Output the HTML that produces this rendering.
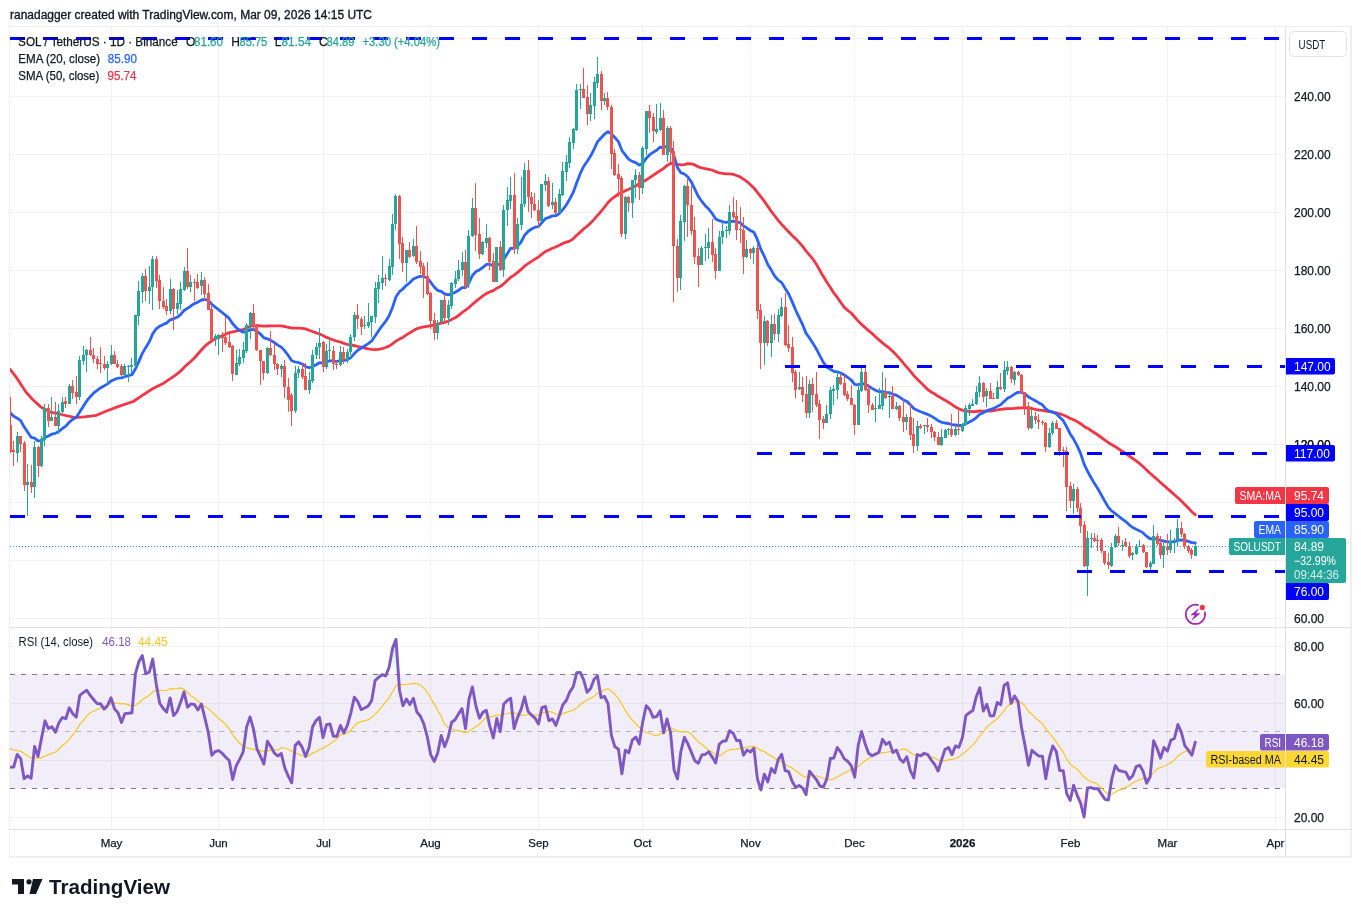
<!DOCTYPE html>
<html><head><meta charset="utf-8"><title>SOL / TetherUS chart</title>
<style>
html,body{margin:0;padding:0;background:#fff;}
body{width:1361px;height:917px;overflow:hidden;position:relative;font-family:"Liberation Sans",Arial,sans-serif;}
svg{position:absolute;left:0;top:0;}
svg text{font-family:"Liberation Sans",Arial,sans-serif;}
</style></head><body>
<svg width="1361" height="917" viewBox="0 0 1361 917" shape-rendering="crispEdges">
<rect x="0" y="0" width="1361" height="917" fill="#ffffff"/>
<text x="10" y="19" font-size="12.5" fill="#131722" stroke="#131722" stroke-width="0.35" textLength="362" lengthAdjust="spacingAndGlyphs">ranadagger created with TradingView.com, Mar 09, 2026 14:15 UTC</text>
<!-- frame -->
<rect x="9.5" y="26.5" width="1341.5" height="830.5" fill="none" stroke="#efefef" stroke-width="1.6"/>
<!-- grid -->
<g fill="#f2f2f3">
<rect x="10" y="38" width="1275" height="1"/>
<rect x="10" y="96" width="1275" height="1"/>
<rect x="10" y="154" width="1275" height="1"/>
<rect x="10" y="212" width="1275" height="1"/>
<rect x="10" y="270" width="1275" height="1"/>
<rect x="10" y="328" width="1275" height="1"/>
<rect x="10" y="386" width="1275" height="1"/>
<rect x="10" y="444" width="1275" height="1"/>
<rect x="10" y="502" width="1275" height="1"/>
<rect x="10" y="560" width="1275" height="1"/>
<rect x="10" y="618" width="1275" height="1"/>
<rect x="10" y="646" width="1275" height="1"/>
<rect x="10" y="703" width="1275" height="1"/>
<rect x="10" y="760" width="1275" height="1"/>
<rect x="10" y="817" width="1275" height="1"/>
<rect x="111" y="27" width="1" height="600"/>
<rect x="111" y="628" width="1" height="201"/>
<rect x="218" y="27" width="1" height="600"/>
<rect x="218" y="628" width="1" height="201"/>
<rect x="323" y="27" width="1" height="600"/>
<rect x="323" y="628" width="1" height="201"/>
<rect x="430" y="27" width="1" height="600"/>
<rect x="430" y="628" width="1" height="201"/>
<rect x="538" y="27" width="1" height="600"/>
<rect x="538" y="628" width="1" height="201"/>
<rect x="642" y="27" width="1" height="600"/>
<rect x="642" y="628" width="1" height="201"/>
<rect x="750" y="27" width="1" height="600"/>
<rect x="750" y="628" width="1" height="201"/>
<rect x="854" y="27" width="1" height="600"/>
<rect x="854" y="628" width="1" height="201"/>
<rect x="962" y="27" width="1" height="600"/>
<rect x="962" y="628" width="1" height="201"/>
<rect x="1070" y="27" width="1" height="600"/>
<rect x="1070" y="628" width="1" height="201"/>
<rect x="1167" y="27" width="1" height="600"/>
<rect x="1167" y="628" width="1" height="201"/>
<rect x="1275" y="27" width="1" height="600"/>
<rect x="1275" y="628" width="1" height="201"/>
</g>
<!-- RSI band -->
<rect x="10" y="674" width="1275" height="114" fill="#7e57c2" fill-opacity="0.1"/>
<g stroke="#787b86" stroke-width="1" stroke-dasharray="5 6" fill="none" shape-rendering="crispEdges">
<line x1="10" y1="674.5" x2="1285" y2="674.5"/>
<line x1="10" y1="731.5" x2="1285" y2="731.5" stroke-opacity="0.5"/>
<line x1="10" y1="788.5" x2="1285" y2="788.5"/>
</g>
<!-- separators -->
<rect x="10" y="627" width="1340" height="1" fill="#e0e1e4"/>
<rect x="10" y="829" width="1340" height="1" fill="#e0e1e4"/>
<rect x="1285" y="27" width="1" height="830" fill="#e0e1e4"/>
<!-- RSI OB/OS fills -->
<defs>
<linearGradient id="gob" gradientUnits="userSpaceOnUse" x1="0" y1="589" x2="0" y2="674.5"><stop offset="0" stop-color="#4caf50" stop-opacity="0.9"/><stop offset="1" stop-color="#4caf50" stop-opacity="0"/></linearGradient>
<linearGradient id="gos" gradientUnits="userSpaceOnUse" x1="0" y1="788.5" x2="0" y2="874"><stop offset="0" stop-color="#f23645" stop-opacity="0"/><stop offset="1" stop-color="#f23645" stop-opacity="0.9"/></linearGradient>
<clipPath id="cob"><rect x="10" y="560" width="1275" height="114.5"/></clipPath>
<clipPath id="cos"><rect x="10" y="788.5" width="1275" height="40.5"/></clipPath>
</defs>
<g shape-rendering="auto">
<polygon points="10.2,767.1 13.7,767.0 17.2,754.5 20.7,758.6 24.1,778.7 27.6,776.0 31.1,778.2 34.6,746.5 38.0,756.4 41.5,738.4 45.0,720.8 48.5,728.6 51.9,726.7 55.4,732.3 58.9,722.8 62.4,717.5 65.8,718.7 69.3,707.8 72.8,713.7 76.3,717.1 79.7,695.5 83.2,692.6 86.7,690.2 90.2,695.4 93.6,699.5 97.1,703.6 100.6,703.8 104.1,709.1 107.5,705.7 111.0,697.8 114.5,708.9 118.0,712.8 121.5,722.6 124.9,713.6 128.4,713.3 131.9,712.8 135.4,673.8 138.8,661.8 142.3,655.5 145.8,673.7 149.3,672.1 152.7,659.1 156.2,683.8 159.7,703.3 163.2,708.4 166.6,712.1 170.1,697.9 173.6,715.5 177.1,711.6 180.5,702.6 184.0,692.0 187.5,707.2 191.0,703.9 194.4,704.5 197.9,710.0 201.4,703.9 204.9,718.2 208.3,732.5 211.8,755.3 215.3,751.5 218.8,750.7 222.2,753.3 225.7,757.2 229.2,760.5 232.7,779.5 236.1,766.0 239.6,759.4 243.1,752.1 246.6,727.1 250.0,716.9 253.5,729.2 257.0,748.9 260.5,756.4 263.9,764.1 267.4,741.2 270.9,746.7 274.4,753.1 277.8,756.0 281.3,753.5 284.8,768.0 288.3,776.2 291.7,782.8 295.2,745.4 298.7,741.9 302.2,747.4 305.6,756.6 309.1,747.3 312.6,726.7 316.1,720.5 319.5,717.4 323.0,737.5 326.5,724.6 330.0,723.9 333.4,736.3 336.9,736.3 340.4,725.4 343.9,732.9 347.3,725.5 350.8,713.1 354.3,697.2 357.8,701.6 361.2,709.6 364.7,708.0 368.2,706.0 371.7,700.4 375.1,680.6 378.6,677.2 382.1,674.7 385.6,675.9 389.0,667.7 392.5,648.4 396.0,639.4 399.5,690.2 402.9,705.7 406.4,699.1 409.9,704.6 413.4,698.2 416.8,712.0 420.3,716.0 423.8,723.9 427.3,737.0 430.7,754.6 434.2,761.4 437.7,753.0 441.2,735.5 444.6,746.7 448.1,737.5 451.6,722.3 455.1,719.8 458.5,713.9 462.0,708.6 465.5,728.6 469.0,699.2 472.4,687.0 475.9,706.0 479.4,718.2 482.9,712.3 486.3,710.2 489.8,726.1 493.3,737.9 496.8,718.5 500.2,731.7 503.7,704.2 507.2,700.4 510.7,698.3 514.1,728.5 517.6,717.4 521.1,709.3 524.6,696.8 528.0,711.2 531.5,715.1 535.0,718.1 538.5,723.9 541.9,707.6 545.4,706.3 548.9,720.7 552.4,718.9 555.8,725.4 559.3,715.6 562.8,704.7 566.3,700.5 569.7,692.1 573.2,686.8 576.7,672.8 580.2,672.4 583.6,679.6 587.1,692.3 590.6,688.6 594.1,679.2 597.5,676.0 601.0,697.6 604.5,696.5 608.0,703.7 611.4,735.3 614.9,746.8 618.4,749.0 621.9,773.8 625.3,750.3 628.8,752.8 632.3,740.1 635.8,737.0 639.2,743.9 642.7,722.0 646.2,705.7 649.7,709.5 653.1,717.3 656.6,716.5 660.1,710.9 663.6,732.8 667.0,719.0 670.5,732.3 674.0,769.7 677.5,778.9 680.9,751.4 684.4,737.3 687.9,743.9 691.4,752.4 694.8,760.7 698.3,763.2 701.8,755.0 705.3,754.4 708.7,751.8 712.2,757.1 715.7,763.1 719.2,744.4 722.6,741.3 726.1,740.7 729.6,730.7 733.1,733.2 736.5,740.5 740.0,740.5 743.5,755.2 747.0,750.0 750.4,752.0 753.9,748.2 757.4,778.9 760.9,789.9 764.3,774.1 767.8,781.9 771.3,768.5 774.8,772.8 778.2,759.6 781.7,754.2 785.2,770.6 788.7,771.7 792.1,781.3 795.6,787.4 799.1,785.4 802.6,788.2 806.0,794.7 809.5,771.1 813.0,775.6 816.5,779.7 819.9,786.0 823.4,787.0 826.9,778.6 830.4,758.5 833.8,758.0 837.3,747.5 840.8,752.2 844.3,758.9 847.7,761.3 851.2,765.7 854.7,777.2 858.2,745.1 861.6,731.6 865.1,743.7 868.6,753.2 872.1,755.7 875.5,754.2 879.0,752.0 882.5,739.3 886.0,744.4 889.4,742.1 892.9,752.6 896.4,750.0 899.9,759.1 903.3,762.3 906.8,756.7 910.3,770.5 913.8,777.9 917.2,754.5 920.7,755.8 924.2,753.3 927.7,754.5 931.1,759.8 934.6,764.4 938.1,771.0 941.6,759.9 945.0,749.4 948.5,747.5 952.0,754.6 955.5,745.9 958.9,747.3 962.4,737.8 965.9,715.6 969.4,712.7 972.8,710.6 976.3,696.7 979.8,687.8 983.3,711.1 986.8,704.2 990.2,715.9 993.7,715.9 997.2,702.5 1000.7,704.7 1004.1,685.4 1007.6,682.8 1011.1,703.4 1014.6,695.9 1018.0,701.5 1021.5,727.5 1025.0,745.4 1028.5,765.2 1031.9,750.2 1035.4,753.4 1038.9,756.1 1042.4,756.1 1045.8,778.8 1049.3,758.2 1052.8,745.9 1056.3,751.5 1059.7,770.6 1063.2,770.6 1066.7,793.6 1070.2,800.4 1073.6,785.2 1077.1,795.1 1080.6,803.2 1084.1,817.1 1087.5,787.9 1091.0,787.6 1094.5,788.8 1098.0,788.8 1101.4,794.0 1104.9,799.3 1108.4,800.0 1111.9,778.5 1115.3,765.6 1118.8,770.5 1122.3,771.4 1125.8,772.2 1129.2,779.2 1132.7,775.7 1136.2,766.5 1139.7,765.3 1143.1,771.3 1146.6,783.2 1150.1,777.0 1153.6,740.8 1157.0,748.0 1160.5,758.2 1164.0,747.5 1167.5,750.9 1170.9,740.1 1174.4,738.5 1177.9,724.5 1181.4,732.4 1184.8,745.6 1188.3,750.2 1191.8,755.3 1195.3,742.2 1195.3,674.5 10.2,674.5" fill="url(#gob)" clip-path="url(#cob)"/>
<polygon points="10.2,767.1 13.7,767.0 17.2,754.5 20.7,758.6 24.1,778.7 27.6,776.0 31.1,778.2 34.6,746.5 38.0,756.4 41.5,738.4 45.0,720.8 48.5,728.6 51.9,726.7 55.4,732.3 58.9,722.8 62.4,717.5 65.8,718.7 69.3,707.8 72.8,713.7 76.3,717.1 79.7,695.5 83.2,692.6 86.7,690.2 90.2,695.4 93.6,699.5 97.1,703.6 100.6,703.8 104.1,709.1 107.5,705.7 111.0,697.8 114.5,708.9 118.0,712.8 121.5,722.6 124.9,713.6 128.4,713.3 131.9,712.8 135.4,673.8 138.8,661.8 142.3,655.5 145.8,673.7 149.3,672.1 152.7,659.1 156.2,683.8 159.7,703.3 163.2,708.4 166.6,712.1 170.1,697.9 173.6,715.5 177.1,711.6 180.5,702.6 184.0,692.0 187.5,707.2 191.0,703.9 194.4,704.5 197.9,710.0 201.4,703.9 204.9,718.2 208.3,732.5 211.8,755.3 215.3,751.5 218.8,750.7 222.2,753.3 225.7,757.2 229.2,760.5 232.7,779.5 236.1,766.0 239.6,759.4 243.1,752.1 246.6,727.1 250.0,716.9 253.5,729.2 257.0,748.9 260.5,756.4 263.9,764.1 267.4,741.2 270.9,746.7 274.4,753.1 277.8,756.0 281.3,753.5 284.8,768.0 288.3,776.2 291.7,782.8 295.2,745.4 298.7,741.9 302.2,747.4 305.6,756.6 309.1,747.3 312.6,726.7 316.1,720.5 319.5,717.4 323.0,737.5 326.5,724.6 330.0,723.9 333.4,736.3 336.9,736.3 340.4,725.4 343.9,732.9 347.3,725.5 350.8,713.1 354.3,697.2 357.8,701.6 361.2,709.6 364.7,708.0 368.2,706.0 371.7,700.4 375.1,680.6 378.6,677.2 382.1,674.7 385.6,675.9 389.0,667.7 392.5,648.4 396.0,639.4 399.5,690.2 402.9,705.7 406.4,699.1 409.9,704.6 413.4,698.2 416.8,712.0 420.3,716.0 423.8,723.9 427.3,737.0 430.7,754.6 434.2,761.4 437.7,753.0 441.2,735.5 444.6,746.7 448.1,737.5 451.6,722.3 455.1,719.8 458.5,713.9 462.0,708.6 465.5,728.6 469.0,699.2 472.4,687.0 475.9,706.0 479.4,718.2 482.9,712.3 486.3,710.2 489.8,726.1 493.3,737.9 496.8,718.5 500.2,731.7 503.7,704.2 507.2,700.4 510.7,698.3 514.1,728.5 517.6,717.4 521.1,709.3 524.6,696.8 528.0,711.2 531.5,715.1 535.0,718.1 538.5,723.9 541.9,707.6 545.4,706.3 548.9,720.7 552.4,718.9 555.8,725.4 559.3,715.6 562.8,704.7 566.3,700.5 569.7,692.1 573.2,686.8 576.7,672.8 580.2,672.4 583.6,679.6 587.1,692.3 590.6,688.6 594.1,679.2 597.5,676.0 601.0,697.6 604.5,696.5 608.0,703.7 611.4,735.3 614.9,746.8 618.4,749.0 621.9,773.8 625.3,750.3 628.8,752.8 632.3,740.1 635.8,737.0 639.2,743.9 642.7,722.0 646.2,705.7 649.7,709.5 653.1,717.3 656.6,716.5 660.1,710.9 663.6,732.8 667.0,719.0 670.5,732.3 674.0,769.7 677.5,778.9 680.9,751.4 684.4,737.3 687.9,743.9 691.4,752.4 694.8,760.7 698.3,763.2 701.8,755.0 705.3,754.4 708.7,751.8 712.2,757.1 715.7,763.1 719.2,744.4 722.6,741.3 726.1,740.7 729.6,730.7 733.1,733.2 736.5,740.5 740.0,740.5 743.5,755.2 747.0,750.0 750.4,752.0 753.9,748.2 757.4,778.9 760.9,789.9 764.3,774.1 767.8,781.9 771.3,768.5 774.8,772.8 778.2,759.6 781.7,754.2 785.2,770.6 788.7,771.7 792.1,781.3 795.6,787.4 799.1,785.4 802.6,788.2 806.0,794.7 809.5,771.1 813.0,775.6 816.5,779.7 819.9,786.0 823.4,787.0 826.9,778.6 830.4,758.5 833.8,758.0 837.3,747.5 840.8,752.2 844.3,758.9 847.7,761.3 851.2,765.7 854.7,777.2 858.2,745.1 861.6,731.6 865.1,743.7 868.6,753.2 872.1,755.7 875.5,754.2 879.0,752.0 882.5,739.3 886.0,744.4 889.4,742.1 892.9,752.6 896.4,750.0 899.9,759.1 903.3,762.3 906.8,756.7 910.3,770.5 913.8,777.9 917.2,754.5 920.7,755.8 924.2,753.3 927.7,754.5 931.1,759.8 934.6,764.4 938.1,771.0 941.6,759.9 945.0,749.4 948.5,747.5 952.0,754.6 955.5,745.9 958.9,747.3 962.4,737.8 965.9,715.6 969.4,712.7 972.8,710.6 976.3,696.7 979.8,687.8 983.3,711.1 986.8,704.2 990.2,715.9 993.7,715.9 997.2,702.5 1000.7,704.7 1004.1,685.4 1007.6,682.8 1011.1,703.4 1014.6,695.9 1018.0,701.5 1021.5,727.5 1025.0,745.4 1028.5,765.2 1031.9,750.2 1035.4,753.4 1038.9,756.1 1042.4,756.1 1045.8,778.8 1049.3,758.2 1052.8,745.9 1056.3,751.5 1059.7,770.6 1063.2,770.6 1066.7,793.6 1070.2,800.4 1073.6,785.2 1077.1,795.1 1080.6,803.2 1084.1,817.1 1087.5,787.9 1091.0,787.6 1094.5,788.8 1098.0,788.8 1101.4,794.0 1104.9,799.3 1108.4,800.0 1111.9,778.5 1115.3,765.6 1118.8,770.5 1122.3,771.4 1125.8,772.2 1129.2,779.2 1132.7,775.7 1136.2,766.5 1139.7,765.3 1143.1,771.3 1146.6,783.2 1150.1,777.0 1153.6,740.8 1157.0,748.0 1160.5,758.2 1164.0,747.5 1167.5,750.9 1170.9,740.1 1174.4,738.5 1177.9,724.5 1181.4,732.4 1184.8,745.6 1188.3,750.2 1191.8,755.3 1195.3,742.2 1195.3,788.5 10.2,788.5" fill="url(#gos)" clip-path="url(#cos)"/>
</g>
<!-- MAs -->
<defs><clipPath id="cmain"><rect x="10" y="27" width="1275" height="600"/></clipPath><clipPath id="crsi"><rect x="10" y="628" width="1275" height="201"/></clipPath></defs>
<g fill="none" stroke-linejoin="round" stroke-linecap="round" shape-rendering="auto" clip-path="url(#cmain)">
<polyline points="10.3,369.5 15.6,376.3 25.6,391.6 32.4,399.2 40.8,406.9 50.7,412.2 61.4,414.5 75.2,417.6 84.3,416.8 96.5,415.3 107.2,410.7 119.5,406.1 133.2,401.5 142.4,395.4 153.0,388.5 163.7,383.2 175.9,374.8 180.5,371.2 184.0,367.6 187.5,364.3 191.0,361.2 194.4,358.0 197.9,354.0 201.4,350.0 204.9,346.1 208.3,343.4 211.8,340.9 215.3,338.8 218.8,337.3 222.2,335.7 225.7,334.2 229.2,332.6 232.7,331.9 236.1,331.1 239.6,330.2 243.1,329.5 246.6,328.1 250.0,326.4 253.5,325.7 257.0,325.7 260.5,325.9 263.9,326.2 267.4,326.0 270.9,325.8 274.4,325.9 277.8,325.9 281.3,325.9 284.8,326.5 288.3,327.3 291.7,328.1 295.2,328.1 298.7,328.2 302.2,328.4 305.6,328.9 309.1,330.2 312.6,331.5 316.1,332.9 319.5,333.9 323.0,335.5 326.5,337.4 330.0,338.7 333.4,340.0 336.9,341.2 340.4,342.0 343.9,343.4 347.3,344.3 350.8,345.0 354.3,345.5 357.8,346.5 361.2,347.2 364.7,348.1 368.2,348.9 371.7,349.4 375.1,349.6 378.6,349.4 382.1,348.7 385.6,347.5 389.0,346.1 392.5,343.9 396.0,341.1 399.5,339.1 402.9,337.4 406.4,334.9 409.9,332.8 413.4,330.6 416.8,328.8 420.3,327.6 423.8,326.9 427.3,326.3 430.7,325.7 434.2,325.1 437.7,324.1 441.2,323.2 444.6,322.4 448.1,321.2 451.6,319.5 455.1,317.8 458.5,315.5 462.0,312.7 465.5,310.2 469.0,307.5 472.4,304.3 475.9,301.4 479.4,298.7 482.9,295.9 486.3,293.6 489.8,291.9 493.3,290.6 496.8,288.2 500.2,286.6 503.7,283.8 507.2,280.6 510.7,277.2 514.1,275.1 517.6,272.4 521.1,269.4 524.6,266.1 528.0,263.7 531.5,261.4 535.0,259.1 538.5,257.0 541.9,254.2 545.4,251.5 548.9,249.9 552.4,248.3 555.8,247.0 559.3,245.3 562.8,243.4 566.3,242.1 569.7,241.1 573.2,238.8 576.7,235.3 580.2,232.1 583.6,228.9 587.1,226.3 590.6,223.1 594.1,219.4 597.5,215.4 601.0,211.5 604.5,207.1 608.0,202.6 611.4,199.2 614.9,196.7 618.4,193.9 621.9,192.5 625.3,190.8 628.8,189.2 632.3,187.4 635.8,185.7 639.2,183.7 642.7,182.0 646.2,180.0 649.7,177.7 653.1,175.3 656.6,173.0 660.1,170.6 663.6,168.5 667.0,165.4 670.5,163.5 674.0,163.0 677.5,164.4 680.9,164.8 684.4,164.6 687.9,163.7 691.4,163.9 694.8,164.9 698.3,166.8 701.8,167.8 705.3,168.7 708.7,169.3 712.2,170.0 715.7,171.7 719.2,172.8 722.6,173.4 726.1,173.9 729.6,173.9 733.1,174.3 736.5,175.5 740.0,176.9 743.5,179.2 747.0,181.6 750.4,184.8 753.9,188.0 757.4,192.3 760.9,196.8 764.3,201.2 767.8,206.4 771.3,211.4 774.8,216.0 778.2,220.4 781.7,224.4 785.2,228.2 788.7,231.7 792.1,235.5 795.6,238.6 799.1,242.4 802.6,246.3 806.0,250.9 809.5,255.1 813.0,259.2 816.5,264.4 819.9,270.5 823.4,276.6 826.9,282.3 830.4,287.5 833.8,292.9 837.3,297.4 840.8,302.5 844.3,307.4 847.7,310.4 851.2,313.0 854.7,317.0 858.2,321.1 861.6,324.4 865.1,327.6 868.6,330.6 872.1,333.5 875.5,336.7 879.0,339.9 882.5,342.9 886.0,345.7 889.4,348.2 892.9,351.6 896.4,355.1 899.9,358.9 903.3,363.1 906.8,367.1 910.3,371.2 913.8,375.5 917.2,378.9 920.7,382.5 924.2,385.9 927.7,389.5 931.1,391.9 934.6,393.8 938.1,396.3 941.6,398.2 945.0,400.3 948.5,402.2 952.0,404.6 955.5,407.0 958.9,408.7 962.4,410.3 965.9,411.0 969.4,411.3 972.8,411.6 976.3,411.5 979.8,411.0 983.3,411.2 986.8,411.2 990.2,411.0 993.7,410.6 997.2,409.9 1000.7,409.4 1004.1,409.0 1007.6,408.6 1011.1,408.6 1014.6,408.4 1018.0,408.0 1021.5,407.9 1025.0,407.9 1028.5,408.0 1031.9,408.5 1035.4,409.4 1038.9,410.1 1042.4,410.4 1045.8,411.2 1049.3,411.7 1052.8,412.0 1056.3,412.8 1059.7,413.8 1063.2,415.0 1066.7,416.5 1070.2,418.4 1073.6,419.8 1077.1,421.6 1080.6,423.7 1084.1,426.4 1087.5,428.2 1091.0,430.5 1094.5,432.7 1098.0,435.0 1101.4,437.5 1104.9,440.1 1108.4,442.7 1111.9,444.7 1115.3,446.7 1118.8,449.0 1122.3,451.3 1125.8,453.5 1129.2,456.0 1132.7,458.5 1136.2,460.9 1139.7,463.7 1143.1,466.6 1146.6,469.9 1150.1,473.3 1153.6,476.4 1157.0,479.3 1160.5,482.6 1164.0,485.5 1167.5,488.6 1170.9,491.6 1174.4,494.7 1177.9,497.8 1181.4,501.1 1184.8,504.5 1188.3,508.1 1191.8,511.7 1195.3,514.7" stroke="#f23645" stroke-width="2.8"/>
<polyline points="10.2,412.6 13.7,416.3 17.2,418.2 20.7,420.6 24.1,426.8 27.6,432.1 31.1,437.3 34.6,438.2 38.0,440.8 41.5,440.6 45.0,437.5 48.5,435.9 51.9,434.1 55.4,433.4 58.9,431.3 62.4,428.5 65.8,426.1 69.3,422.2 72.8,419.4 76.3,417.3 79.7,411.9 83.2,406.4 86.7,401.0 90.2,396.7 93.6,393.1 97.1,390.3 100.6,387.8 104.1,385.9 107.5,383.9 111.0,381.1 114.5,379.4 118.0,378.2 121.5,377.9 124.9,376.7 128.4,375.7 131.9,374.7 135.4,369.0 138.8,361.6 142.3,353.4 145.8,347.5 149.3,341.8 152.7,333.9 156.2,328.8 159.7,326.2 163.2,324.4 166.6,323.1 170.1,319.9 173.6,318.8 177.1,317.3 180.5,314.6 184.0,310.5 187.5,308.3 191.0,305.8 194.4,303.6 197.9,302.1 201.4,300.0 204.9,299.5 208.3,300.4 211.8,304.2 215.3,307.2 218.8,309.8 222.2,312.5 225.7,315.4 229.2,318.4 232.7,323.7 236.1,327.5 239.6,330.3 243.1,332.2 246.6,331.5 250.0,329.7 253.5,329.4 257.0,331.4 260.5,334.2 263.9,337.8 267.4,338.8 270.9,340.4 274.4,342.7 277.8,345.1 281.3,347.1 284.8,350.9 288.3,355.5 291.7,360.8 295.2,362.0 298.7,362.7 302.2,364.0 305.6,366.5 309.1,367.8 312.6,366.6 316.1,364.8 319.5,362.7 323.0,363.1 326.5,361.9 330.0,360.7 333.4,361.1 336.9,361.4 340.4,360.5 343.9,360.5 347.3,359.7 350.8,357.6 354.3,353.6 357.8,350.3 361.2,348.1 364.7,345.9 368.2,343.6 371.7,341.0 375.1,336.0 378.6,330.8 382.1,325.8 385.6,321.4 389.0,316.1 392.5,307.4 396.0,296.8 399.5,291.7 402.9,289.0 406.4,285.3 409.9,282.6 413.4,279.1 416.8,277.4 420.3,276.4 423.8,276.4 427.3,278.1 430.7,282.2 434.2,287.0 437.7,290.4 441.2,291.3 444.6,293.8 448.1,294.9 451.6,293.8 455.1,292.4 458.5,290.3 462.0,287.6 465.5,287.5 469.0,282.6 472.4,275.5 475.9,271.6 479.4,269.9 482.9,267.3 486.3,264.5 489.8,264.2 493.3,265.9 496.8,264.1 500.2,264.6 503.7,259.4 507.2,253.8 510.7,248.2 514.1,248.3 517.6,246.0 521.1,242.0 524.6,235.2 528.0,231.5 531.5,229.0 535.0,227.2 538.5,226.6 541.9,222.5 545.4,218.6 548.9,217.4 552.4,215.9 555.8,215.7 559.3,213.6 562.8,209.6 566.3,205.0 569.7,199.1 573.2,192.4 576.7,182.7 580.2,173.7 583.6,166.5 587.1,161.5 590.6,156.1 594.1,149.1 597.5,141.9 601.0,138.0 604.5,134.2 608.0,131.6 611.4,133.7 614.9,137.7 618.4,141.6 621.9,150.5 625.3,154.9 628.8,159.4 632.3,161.4 635.8,162.7 639.2,165.1 642.7,163.5 646.2,158.5 649.7,154.7 653.1,152.4 656.6,150.2 660.1,147.1 663.6,147.9 667.0,146.0 670.5,146.5 674.0,156.0 677.5,167.6 680.9,172.7 684.4,174.0 687.9,177.0 691.4,182.1 694.8,189.2 698.3,196.4 701.8,201.3 705.3,205.7 708.7,209.1 712.2,213.5 715.7,218.9 719.2,220.7 722.6,221.7 726.1,222.5 729.6,221.5 733.1,221.1 736.5,221.9 740.0,222.6 743.5,225.9 747.0,228.1 750.4,230.5 753.9,232.2 757.4,239.7 760.9,249.5 764.3,256.3 767.8,264.5 771.3,270.1 774.8,276.3 778.2,280.0 781.7,282.6 785.2,288.5 788.7,294.1 792.1,301.6 795.6,310.0 799.1,317.4 802.6,324.7 806.0,333.1 809.5,338.0 813.0,343.4 816.5,349.2 819.9,355.9 823.4,362.3 826.9,367.2 830.4,369.3 833.8,371.3 837.3,371.8 840.8,373.0 844.3,375.0 847.7,377.3 851.2,380.0 854.7,384.3 858.2,384.8 861.6,383.6 865.1,384.2 868.6,386.2 872.1,388.4 875.5,390.3 879.0,391.7 882.5,391.7 886.0,392.3 889.4,392.6 892.9,394.2 896.4,395.3 899.9,397.4 903.3,399.8 906.8,401.4 910.3,404.6 913.8,408.5 917.2,410.2 920.7,411.8 924.2,413.1 927.7,414.4 931.1,416.1 934.6,418.1 938.1,420.7 941.6,422.3 945.0,423.0 948.5,423.5 952.0,424.6 955.5,425.0 958.9,425.5 962.4,425.4 965.9,423.8 969.4,422.0 972.8,420.3 976.3,417.6 979.8,414.3 983.3,412.7 986.8,410.6 990.2,409.5 993.7,408.4 997.2,406.4 1000.7,404.8 1004.1,401.5 1007.6,398.2 1011.1,396.4 1014.6,394.1 1018.0,392.3 1021.5,392.4 1025.0,393.8 1028.5,397.0 1031.9,398.9 1035.4,400.8 1038.9,402.9 1042.4,404.8 1045.8,408.8 1049.3,411.1 1052.8,412.2 1056.3,413.8 1059.7,417.3 1063.2,420.6 1066.7,426.9 1070.2,433.9 1073.6,439.1 1077.1,445.7 1080.6,453.4 1084.1,464.1 1087.5,471.2 1091.0,477.5 1094.5,483.6 1098.0,489.0 1101.4,495.0 1104.9,501.4 1108.4,507.4 1111.9,511.2 1115.3,513.6 1118.8,516.4 1122.3,519.1 1125.8,521.6 1129.2,524.8 1132.7,527.5 1136.2,529.3 1139.7,530.9 1143.1,532.9 1146.6,536.2 1150.1,538.8 1153.6,538.5 1157.0,539.0 1160.5,540.5 1164.0,541.1 1167.5,541.9 1170.9,541.8 1174.4,541.6 1177.9,540.3 1181.4,539.8 1184.8,540.4 1188.3,541.4 1191.8,542.7 1195.3,543.0" stroke="#2962ff" stroke-width="2.8"/>
</g>
<g fill="none" stroke-linejoin="round" stroke-linecap="round" shape-rendering="auto" clip-path="url(#crsi)">
<polyline points="10.2,748.6 13.7,750.0 17.2,750.5 20.7,751.3 24.1,753.6 27.6,755.7 31.1,757.9 34.6,757.8 38.0,758.5 41.5,757.9 45.0,756.0 48.5,754.6 51.9,753.2 55.4,752.1 58.9,749.0 62.4,745.4 65.8,742.9 69.3,739.2 72.8,734.6 76.3,730.4 79.7,724.5 83.2,720.6 86.7,715.9 90.2,712.8 93.6,711.3 97.1,709.5 100.6,707.9 104.1,706.2 107.5,705.0 111.0,703.6 114.5,702.9 118.0,703.3 121.5,703.9 124.9,703.7 128.4,704.9 131.9,706.4 135.4,705.2 138.8,702.8 142.3,699.7 145.8,697.5 149.3,695.3 152.7,691.7 156.2,690.1 159.7,690.5 163.2,690.5 166.6,690.4 170.1,688.7 173.6,688.8 177.1,688.7 180.5,687.9 184.0,689.2 187.5,692.5 191.0,695.9 194.4,698.1 197.9,700.8 201.4,704.0 204.9,706.5 208.3,708.6 211.8,711.9 215.3,714.8 218.8,718.5 222.2,721.2 225.7,724.5 229.2,728.6 232.7,734.9 236.1,739.1 239.6,743.0 243.1,746.4 246.6,747.7 250.0,748.6 253.5,749.4 257.0,750.5 260.5,750.6 263.9,751.5 267.4,750.8 270.9,750.4 274.4,750.1 277.8,749.8 281.3,747.9 284.8,748.0 288.3,749.2 291.7,751.4 295.2,752.7 298.7,754.5 302.2,755.8 305.6,756.4 309.1,755.7 312.6,753.1 316.1,751.6 319.5,749.5 323.0,748.4 326.5,746.1 330.0,744.0 333.4,741.7 336.9,738.9 340.4,734.8 343.9,733.9 347.3,732.7 350.8,730.3 354.3,726.1 357.8,722.8 361.2,721.6 364.7,720.7 368.2,719.9 371.7,717.2 375.1,714.1 378.6,710.7 382.1,706.3 385.6,702.0 389.0,697.9 392.5,691.8 396.0,685.7 399.5,684.1 402.9,684.7 406.4,684.5 409.9,684.1 413.4,683.4 416.8,683.9 420.3,685.0 423.8,688.1 427.3,692.3 430.7,698.0 434.2,704.1 437.7,710.2 441.2,716.5 444.6,724.1 448.1,727.5 451.6,728.7 455.1,730.2 458.5,730.8 462.0,731.6 465.5,732.8 469.0,731.6 472.4,728.9 475.9,726.7 479.4,724.1 482.9,720.6 486.3,717.6 489.8,716.9 493.3,716.3 496.8,714.9 500.2,715.6 503.7,714.5 507.2,713.5 510.7,712.8 514.1,712.7 517.6,714.1 521.1,715.6 524.6,715.0 528.0,714.5 531.5,714.7 535.0,715.2 538.5,715.1 541.9,712.9 545.4,712.1 548.9,711.3 552.4,712.3 555.8,714.1 559.3,715.3 562.8,713.6 566.3,712.4 569.7,711.2 573.2,710.5 576.7,707.7 580.2,704.7 583.6,702.0 587.1,699.7 590.6,698.3 594.1,696.4 597.5,693.2 601.0,691.7 604.5,689.6 608.0,688.8 611.4,691.0 614.9,694.3 618.4,698.3 621.9,704.6 625.3,710.1 628.8,715.8 632.3,720.2 635.8,723.3 639.2,727.3 642.7,730.3 646.2,732.5 649.7,733.3 653.1,734.8 656.6,735.7 660.1,734.0 663.6,733.0 667.0,730.8 670.5,727.9 674.0,729.3 677.5,731.1 680.9,731.9 684.4,731.9 687.9,731.9 691.4,734.1 694.8,738.0 698.3,741.9 701.8,744.6 705.3,747.3 708.7,750.2 712.2,751.9 715.7,755.1 719.2,755.9 722.6,753.9 726.1,751.2 729.6,749.7 733.1,749.4 736.5,749.2 740.0,748.3 743.5,747.9 747.0,747.0 750.4,746.8 753.9,746.3 757.4,748.3 760.9,750.6 764.3,751.4 767.8,754.1 771.3,756.0 774.8,758.3 778.2,760.4 781.7,761.9 785.2,764.0 788.7,766.2 792.1,768.1 795.6,770.8 799.1,773.2 802.6,776.0 806.0,777.2 809.5,775.8 813.0,775.9 816.5,775.8 819.9,777.0 823.4,778.0 826.9,779.4 830.4,779.7 833.8,778.8 837.3,777.1 840.8,775.0 844.3,772.9 847.7,771.2 851.2,769.6 854.7,768.4 858.2,766.5 861.6,763.4 865.1,760.8 868.6,758.5 872.1,756.2 875.5,754.5 879.0,754.0 882.5,752.7 886.0,752.5 889.4,751.7 892.9,751.3 896.4,750.5 899.9,750.0 903.3,748.9 906.8,749.8 910.3,752.6 913.8,755.0 917.2,755.1 920.7,755.1 924.2,755.0 927.7,755.2 931.1,756.7 934.6,758.1 938.1,760.2 941.6,760.7 945.0,760.7 948.5,759.8 952.0,759.3 955.5,758.5 958.9,756.8 962.4,754.0 965.9,751.2 969.4,748.1 972.8,745.1 976.3,740.9 979.8,735.8 983.3,732.0 986.8,727.2 990.2,724.1 993.7,721.7 997.2,718.5 1000.7,714.9 1004.1,710.6 1007.6,706.0 1011.1,703.5 1014.6,702.1 1018.0,701.3 1021.5,702.5 1025.0,706.0 1028.5,711.5 1031.9,714.3 1035.4,717.8 1038.9,720.7 1042.4,723.6 1045.8,729.0 1049.3,732.9 1052.8,737.2 1056.3,742.1 1059.7,746.9 1063.2,752.2 1066.7,758.8 1070.2,764.0 1073.6,766.9 1077.1,769.0 1080.6,772.8 1084.1,777.3 1087.5,779.6 1091.0,781.8 1094.5,782.6 1098.0,784.7 1101.4,788.2 1104.9,791.6 1108.4,793.7 1111.9,794.2 1115.3,792.3 1118.8,790.1 1122.3,789.1 1125.8,787.5 1129.2,785.8 1132.7,782.8 1136.2,781.3 1139.7,779.7 1143.1,778.4 1146.6,778.0 1150.1,776.8 1153.6,772.6 1157.0,768.9 1160.5,767.5 1164.0,766.2 1167.5,764.8 1170.9,762.6 1174.4,760.2 1177.9,756.2 1181.4,753.2 1184.8,751.7 1188.3,750.6 1191.8,749.4 1195.3,746.5" stroke="#f9c623" stroke-width="1.2"/>
<polyline points="10.2,767.1 13.7,767.0 17.2,754.5 20.7,758.6 24.1,778.7 27.6,776.0 31.1,778.2 34.6,746.5 38.0,756.4 41.5,738.4 45.0,720.8 48.5,728.6 51.9,726.7 55.4,732.3 58.9,722.8 62.4,717.5 65.8,718.7 69.3,707.8 72.8,713.7 76.3,717.1 79.7,695.5 83.2,692.6 86.7,690.2 90.2,695.4 93.6,699.5 97.1,703.6 100.6,703.8 104.1,709.1 107.5,705.7 111.0,697.8 114.5,708.9 118.0,712.8 121.5,722.6 124.9,713.6 128.4,713.3 131.9,712.8 135.4,673.8 138.8,661.8 142.3,655.5 145.8,673.7 149.3,672.1 152.7,659.1 156.2,683.8 159.7,703.3 163.2,708.4 166.6,712.1 170.1,697.9 173.6,715.5 177.1,711.6 180.5,702.6 184.0,692.0 187.5,707.2 191.0,703.9 194.4,704.5 197.9,710.0 201.4,703.9 204.9,718.2 208.3,732.5 211.8,755.3 215.3,751.5 218.8,750.7 222.2,753.3 225.7,757.2 229.2,760.5 232.7,779.5 236.1,766.0 239.6,759.4 243.1,752.1 246.6,727.1 250.0,716.9 253.5,729.2 257.0,748.9 260.5,756.4 263.9,764.1 267.4,741.2 270.9,746.7 274.4,753.1 277.8,756.0 281.3,753.5 284.8,768.0 288.3,776.2 291.7,782.8 295.2,745.4 298.7,741.9 302.2,747.4 305.6,756.6 309.1,747.3 312.6,726.7 316.1,720.5 319.5,717.4 323.0,737.5 326.5,724.6 330.0,723.9 333.4,736.3 336.9,736.3 340.4,725.4 343.9,732.9 347.3,725.5 350.8,713.1 354.3,697.2 357.8,701.6 361.2,709.6 364.7,708.0 368.2,706.0 371.7,700.4 375.1,680.6 378.6,677.2 382.1,674.7 385.6,675.9 389.0,667.7 392.5,648.4 396.0,639.4 399.5,690.2 402.9,705.7 406.4,699.1 409.9,704.6 413.4,698.2 416.8,712.0 420.3,716.0 423.8,723.9 427.3,737.0 430.7,754.6 434.2,761.4 437.7,753.0 441.2,735.5 444.6,746.7 448.1,737.5 451.6,722.3 455.1,719.8 458.5,713.9 462.0,708.6 465.5,728.6 469.0,699.2 472.4,687.0 475.9,706.0 479.4,718.2 482.9,712.3 486.3,710.2 489.8,726.1 493.3,737.9 496.8,718.5 500.2,731.7 503.7,704.2 507.2,700.4 510.7,698.3 514.1,728.5 517.6,717.4 521.1,709.3 524.6,696.8 528.0,711.2 531.5,715.1 535.0,718.1 538.5,723.9 541.9,707.6 545.4,706.3 548.9,720.7 552.4,718.9 555.8,725.4 559.3,715.6 562.8,704.7 566.3,700.5 569.7,692.1 573.2,686.8 576.7,672.8 580.2,672.4 583.6,679.6 587.1,692.3 590.6,688.6 594.1,679.2 597.5,676.0 601.0,697.6 604.5,696.5 608.0,703.7 611.4,735.3 614.9,746.8 618.4,749.0 621.9,773.8 625.3,750.3 628.8,752.8 632.3,740.1 635.8,737.0 639.2,743.9 642.7,722.0 646.2,705.7 649.7,709.5 653.1,717.3 656.6,716.5 660.1,710.9 663.6,732.8 667.0,719.0 670.5,732.3 674.0,769.7 677.5,778.9 680.9,751.4 684.4,737.3 687.9,743.9 691.4,752.4 694.8,760.7 698.3,763.2 701.8,755.0 705.3,754.4 708.7,751.8 712.2,757.1 715.7,763.1 719.2,744.4 722.6,741.3 726.1,740.7 729.6,730.7 733.1,733.2 736.5,740.5 740.0,740.5 743.5,755.2 747.0,750.0 750.4,752.0 753.9,748.2 757.4,778.9 760.9,789.9 764.3,774.1 767.8,781.9 771.3,768.5 774.8,772.8 778.2,759.6 781.7,754.2 785.2,770.6 788.7,771.7 792.1,781.3 795.6,787.4 799.1,785.4 802.6,788.2 806.0,794.7 809.5,771.1 813.0,775.6 816.5,779.7 819.9,786.0 823.4,787.0 826.9,778.6 830.4,758.5 833.8,758.0 837.3,747.5 840.8,752.2 844.3,758.9 847.7,761.3 851.2,765.7 854.7,777.2 858.2,745.1 861.6,731.6 865.1,743.7 868.6,753.2 872.1,755.7 875.5,754.2 879.0,752.0 882.5,739.3 886.0,744.4 889.4,742.1 892.9,752.6 896.4,750.0 899.9,759.1 903.3,762.3 906.8,756.7 910.3,770.5 913.8,777.9 917.2,754.5 920.7,755.8 924.2,753.3 927.7,754.5 931.1,759.8 934.6,764.4 938.1,771.0 941.6,759.9 945.0,749.4 948.5,747.5 952.0,754.6 955.5,745.9 958.9,747.3 962.4,737.8 965.9,715.6 969.4,712.7 972.8,710.6 976.3,696.7 979.8,687.8 983.3,711.1 986.8,704.2 990.2,715.9 993.7,715.9 997.2,702.5 1000.7,704.7 1004.1,685.4 1007.6,682.8 1011.1,703.4 1014.6,695.9 1018.0,701.5 1021.5,727.5 1025.0,745.4 1028.5,765.2 1031.9,750.2 1035.4,753.4 1038.9,756.1 1042.4,756.1 1045.8,778.8 1049.3,758.2 1052.8,745.9 1056.3,751.5 1059.7,770.6 1063.2,770.6 1066.7,793.6 1070.2,800.4 1073.6,785.2 1077.1,795.1 1080.6,803.2 1084.1,817.1 1087.5,787.9 1091.0,787.6 1094.5,788.8 1098.0,788.8 1101.4,794.0 1104.9,799.3 1108.4,800.0 1111.9,778.5 1115.3,765.6 1118.8,770.5 1122.3,771.4 1125.8,772.2 1129.2,779.2 1132.7,775.7 1136.2,766.5 1139.7,765.3 1143.1,771.3 1146.6,783.2 1150.1,777.0 1153.6,740.8 1157.0,748.0 1160.5,758.2 1164.0,747.5 1167.5,750.9 1170.9,740.1 1174.4,738.5 1177.9,724.5 1181.4,732.4 1184.8,745.6 1188.3,750.2 1191.8,755.3 1195.3,742.2" stroke="#7e57c2" stroke-width="2.9"/>
</g>
<!-- candles -->
<g shape-rendering="crispEdges">
<rect x="10" y="397" width="1" height="56" fill="#ef5350"/>
<rect x="10" y="425" width="2" height="27" fill="#ef5350"/>
<rect x="13" y="441" width="1" height="25" fill="#ef5350"/>
<rect x="12" y="450" width="3" height="2" fill="#ef5350"/>
<rect x="17" y="432" width="1" height="30" fill="#26a69a"/>
<rect x="16" y="436" width="3" height="17" fill="#26a69a"/>
<rect x="20" y="436" width="1" height="16" fill="#ef5350"/>
<rect x="19" y="436" width="3" height="8" fill="#ef5350"/>
<rect x="24" y="441" width="1" height="50" fill="#ef5350"/>
<rect x="23" y="443" width="3" height="42" fill="#ef5350"/>
<rect x="27" y="464" width="1" height="52" fill="#26a69a"/>
<rect x="26" y="482" width="3" height="3" fill="#26a69a"/>
<rect x="31" y="465" width="1" height="28" fill="#ef5350"/>
<rect x="30" y="482" width="3" height="5" fill="#ef5350"/>
<rect x="34" y="441" width="1" height="57" fill="#26a69a"/>
<rect x="33" y="447" width="3" height="40" fill="#26a69a"/>
<rect x="38" y="446" width="1" height="31" fill="#ef5350"/>
<rect x="37" y="447" width="3" height="19" fill="#ef5350"/>
<rect x="41" y="436" width="1" height="31" fill="#26a69a"/>
<rect x="40" y="439" width="3" height="27" fill="#26a69a"/>
<rect x="44" y="404" width="1" height="42" fill="#26a69a"/>
<rect x="43" y="408" width="3" height="32" fill="#26a69a"/>
<rect x="48" y="404" width="1" height="23" fill="#ef5350"/>
<rect x="47" y="408" width="3" height="13" fill="#ef5350"/>
<rect x="51" y="397" width="1" height="24" fill="#26a69a"/>
<rect x="50" y="417" width="3" height="4" fill="#26a69a"/>
<rect x="55" y="402" width="1" height="24" fill="#ef5350"/>
<rect x="54" y="417" width="3" height="9" fill="#ef5350"/>
<rect x="58" y="404" width="1" height="30" fill="#26a69a"/>
<rect x="57" y="411" width="3" height="15" fill="#26a69a"/>
<rect x="62" y="397" width="1" height="16" fill="#26a69a"/>
<rect x="61" y="402" width="3" height="10" fill="#26a69a"/>
<rect x="65" y="397" width="1" height="11" fill="#ef5350"/>
<rect x="64" y="401" width="3" height="3" fill="#ef5350"/>
<rect x="69" y="384" width="1" height="20" fill="#26a69a"/>
<rect x="68" y="386" width="3" height="18" fill="#26a69a"/>
<rect x="72" y="380" width="1" height="19" fill="#ef5350"/>
<rect x="71" y="386" width="3" height="7" fill="#ef5350"/>
<rect x="76" y="376" width="1" height="28" fill="#ef5350"/>
<rect x="75" y="392" width="3" height="5" fill="#ef5350"/>
<rect x="79" y="356" width="1" height="44" fill="#26a69a"/>
<rect x="78" y="360" width="3" height="37" fill="#26a69a"/>
<rect x="83" y="346" width="1" height="19" fill="#26a69a"/>
<rect x="82" y="355" width="3" height="6" fill="#26a69a"/>
<rect x="86" y="349" width="1" height="23" fill="#26a69a"/>
<rect x="85" y="350" width="3" height="5" fill="#26a69a"/>
<rect x="90" y="337" width="1" height="19" fill="#ef5350"/>
<rect x="89" y="350" width="3" height="5" fill="#ef5350"/>
<rect x="93" y="348" width="1" height="15" fill="#ef5350"/>
<rect x="92" y="355" width="3" height="4" fill="#ef5350"/>
<rect x="97" y="356" width="1" height="13" fill="#ef5350"/>
<rect x="96" y="359" width="3" height="5" fill="#ef5350"/>
<rect x="100" y="347" width="1" height="26" fill="#ef5350"/>
<rect x="99" y="363" width="3" height="1" fill="#ef5350"/>
<rect x="104" y="356" width="1" height="14" fill="#ef5350"/>
<rect x="103" y="364" width="3" height="4" fill="#ef5350"/>
<rect x="107" y="361" width="1" height="23" fill="#26a69a"/>
<rect x="106" y="364" width="3" height="4" fill="#26a69a"/>
<rect x="111" y="345" width="1" height="20" fill="#26a69a"/>
<rect x="110" y="355" width="3" height="9" fill="#26a69a"/>
<rect x="114" y="351" width="1" height="13" fill="#ef5350"/>
<rect x="113" y="355" width="3" height="9" fill="#ef5350"/>
<rect x="117" y="360" width="1" height="8" fill="#ef5350"/>
<rect x="116" y="364" width="3" height="3" fill="#ef5350"/>
<rect x="121" y="364" width="1" height="12" fill="#ef5350"/>
<rect x="120" y="366" width="3" height="9" fill="#ef5350"/>
<rect x="124" y="364" width="1" height="14" fill="#26a69a"/>
<rect x="123" y="366" width="3" height="9" fill="#26a69a"/>
<rect x="128" y="365" width="1" height="17" fill="#26a69a"/>
<rect x="127" y="366" width="3" height="1" fill="#26a69a"/>
<rect x="131" y="358" width="1" height="15" fill="#26a69a"/>
<rect x="130" y="365" width="3" height="2" fill="#26a69a"/>
<rect x="135" y="315" width="1" height="52" fill="#26a69a"/>
<rect x="134" y="315" width="3" height="51" fill="#26a69a"/>
<rect x="138" y="281" width="1" height="44" fill="#26a69a"/>
<rect x="137" y="291" width="3" height="25" fill="#26a69a"/>
<rect x="142" y="273" width="1" height="30" fill="#26a69a"/>
<rect x="141" y="276" width="3" height="16" fill="#26a69a"/>
<rect x="145" y="269" width="1" height="32" fill="#ef5350"/>
<rect x="144" y="276" width="3" height="15" fill="#ef5350"/>
<rect x="149" y="266" width="1" height="38" fill="#26a69a"/>
<rect x="148" y="287" width="3" height="4" fill="#26a69a"/>
<rect x="152" y="256" width="1" height="54" fill="#26a69a"/>
<rect x="151" y="259" width="3" height="28" fill="#26a69a"/>
<rect x="156" y="256" width="1" height="32" fill="#ef5350"/>
<rect x="155" y="259" width="3" height="22" fill="#ef5350"/>
<rect x="159" y="275" width="1" height="34" fill="#ef5350"/>
<rect x="158" y="280" width="3" height="21" fill="#ef5350"/>
<rect x="163" y="287" width="1" height="22" fill="#ef5350"/>
<rect x="162" y="301" width="3" height="6" fill="#ef5350"/>
<rect x="166" y="299" width="1" height="16" fill="#ef5350"/>
<rect x="165" y="306" width="3" height="5" fill="#ef5350"/>
<rect x="170" y="279" width="1" height="35" fill="#26a69a"/>
<rect x="169" y="289" width="3" height="22" fill="#26a69a"/>
<rect x="173" y="288" width="1" height="42" fill="#ef5350"/>
<rect x="172" y="289" width="3" height="20" fill="#ef5350"/>
<rect x="177" y="290" width="1" height="24" fill="#26a69a"/>
<rect x="176" y="303" width="3" height="6" fill="#26a69a"/>
<rect x="180" y="282" width="1" height="28" fill="#26a69a"/>
<rect x="179" y="289" width="3" height="15" fill="#26a69a"/>
<rect x="184" y="267" width="1" height="24" fill="#26a69a"/>
<rect x="183" y="271" width="3" height="19" fill="#26a69a"/>
<rect x="187" y="248" width="1" height="41" fill="#ef5350"/>
<rect x="186" y="271" width="3" height="16" fill="#ef5350"/>
<rect x="190" y="275" width="1" height="17" fill="#26a69a"/>
<rect x="189" y="282" width="3" height="5" fill="#26a69a"/>
<rect x="194" y="279" width="1" height="22" fill="#ef5350"/>
<rect x="193" y="282" width="3" height="1" fill="#ef5350"/>
<rect x="197" y="274" width="1" height="15" fill="#ef5350"/>
<rect x="196" y="282" width="3" height="6" fill="#ef5350"/>
<rect x="201" y="272" width="1" height="23" fill="#26a69a"/>
<rect x="200" y="280" width="3" height="6" fill="#26a69a"/>
<rect x="204" y="277" width="1" height="24" fill="#ef5350"/>
<rect x="203" y="280" width="3" height="14" fill="#ef5350"/>
<rect x="208" y="284" width="1" height="26" fill="#ef5350"/>
<rect x="207" y="293" width="3" height="17" fill="#ef5350"/>
<rect x="211" y="306" width="1" height="35" fill="#ef5350"/>
<rect x="210" y="309" width="3" height="31" fill="#ef5350"/>
<rect x="215" y="334" width="1" height="12" fill="#26a69a"/>
<rect x="214" y="336" width="3" height="3" fill="#26a69a"/>
<rect x="218" y="334" width="1" height="21" fill="#26a69a"/>
<rect x="217" y="335" width="3" height="4" fill="#26a69a"/>
<rect x="222" y="332" width="1" height="20" fill="#ef5350"/>
<rect x="221" y="336" width="3" height="2" fill="#ef5350"/>
<rect x="225" y="317" width="1" height="28" fill="#ef5350"/>
<rect x="224" y="337" width="3" height="6" fill="#ef5350"/>
<rect x="229" y="333" width="1" height="15" fill="#ef5350"/>
<rect x="228" y="342" width="3" height="5" fill="#ef5350"/>
<rect x="232" y="345" width="1" height="36" fill="#ef5350"/>
<rect x="231" y="346" width="3" height="28" fill="#ef5350"/>
<rect x="236" y="350" width="1" height="25" fill="#26a69a"/>
<rect x="235" y="363" width="3" height="12" fill="#26a69a"/>
<rect x="239" y="349" width="1" height="17" fill="#26a69a"/>
<rect x="238" y="357" width="3" height="7" fill="#26a69a"/>
<rect x="243" y="342" width="1" height="21" fill="#26a69a"/>
<rect x="242" y="350" width="3" height="8" fill="#26a69a"/>
<rect x="246" y="323" width="1" height="30" fill="#26a69a"/>
<rect x="245" y="325" width="3" height="26" fill="#26a69a"/>
<rect x="250" y="312" width="1" height="27" fill="#26a69a"/>
<rect x="249" y="313" width="3" height="13" fill="#26a69a"/>
<rect x="253" y="304" width="1" height="26" fill="#ef5350"/>
<rect x="252" y="313" width="3" height="13" fill="#ef5350"/>
<rect x="256" y="324" width="1" height="27" fill="#ef5350"/>
<rect x="255" y="325" width="3" height="25" fill="#ef5350"/>
<rect x="260" y="350" width="1" height="35" fill="#ef5350"/>
<rect x="259" y="350" width="3" height="11" fill="#ef5350"/>
<rect x="263" y="361" width="1" height="19" fill="#ef5350"/>
<rect x="262" y="361" width="3" height="12" fill="#ef5350"/>
<rect x="267" y="347" width="1" height="27" fill="#26a69a"/>
<rect x="266" y="348" width="3" height="25" fill="#26a69a"/>
<rect x="270" y="331" width="1" height="25" fill="#ef5350"/>
<rect x="269" y="348" width="3" height="7" fill="#ef5350"/>
<rect x="274" y="344" width="1" height="26" fill="#ef5350"/>
<rect x="273" y="355" width="3" height="9" fill="#ef5350"/>
<rect x="277" y="363" width="1" height="12" fill="#ef5350"/>
<rect x="276" y="364" width="3" height="5" fill="#ef5350"/>
<rect x="281" y="364" width="1" height="13" fill="#26a69a"/>
<rect x="280" y="366" width="3" height="3" fill="#26a69a"/>
<rect x="284" y="360" width="1" height="38" fill="#ef5350"/>
<rect x="283" y="366" width="3" height="21" fill="#ef5350"/>
<rect x="288" y="378" width="1" height="34" fill="#ef5350"/>
<rect x="287" y="387" width="3" height="13" fill="#ef5350"/>
<rect x="291" y="393" width="1" height="33" fill="#ef5350"/>
<rect x="290" y="395" width="3" height="16" fill="#ef5350"/>
<rect x="295" y="366" width="1" height="47" fill="#26a69a"/>
<rect x="294" y="373" width="3" height="38" fill="#26a69a"/>
<rect x="298" y="366" width="1" height="12" fill="#26a69a"/>
<rect x="297" y="369" width="3" height="4" fill="#26a69a"/>
<rect x="302" y="364" width="1" height="15" fill="#ef5350"/>
<rect x="301" y="369" width="3" height="8" fill="#ef5350"/>
<rect x="305" y="363" width="1" height="27" fill="#ef5350"/>
<rect x="304" y="376" width="3" height="14" fill="#ef5350"/>
<rect x="309" y="372" width="1" height="22" fill="#26a69a"/>
<rect x="308" y="380" width="3" height="10" fill="#26a69a"/>
<rect x="312" y="350" width="1" height="33" fill="#26a69a"/>
<rect x="311" y="355" width="3" height="26" fill="#26a69a"/>
<rect x="316" y="343" width="1" height="16" fill="#26a69a"/>
<rect x="315" y="347" width="3" height="8" fill="#26a69a"/>
<rect x="319" y="328" width="1" height="31" fill="#26a69a"/>
<rect x="318" y="343" width="3" height="4" fill="#26a69a"/>
<rect x="323" y="341" width="1" height="31" fill="#ef5350"/>
<rect x="322" y="342" width="3" height="25" fill="#ef5350"/>
<rect x="326" y="344" width="1" height="25" fill="#26a69a"/>
<rect x="325" y="351" width="3" height="16" fill="#26a69a"/>
<rect x="329" y="339" width="1" height="21" fill="#26a69a"/>
<rect x="328" y="350" width="3" height="1" fill="#26a69a"/>
<rect x="333" y="346" width="1" height="24" fill="#ef5350"/>
<rect x="332" y="351" width="3" height="13" fill="#ef5350"/>
<rect x="336" y="361" width="1" height="8" fill="#ef5350"/>
<rect x="335" y="364" width="3" height="1" fill="#ef5350"/>
<rect x="340" y="346" width="1" height="20" fill="#26a69a"/>
<rect x="339" y="352" width="3" height="13" fill="#26a69a"/>
<rect x="343" y="347" width="1" height="17" fill="#ef5350"/>
<rect x="342" y="352" width="3" height="8" fill="#ef5350"/>
<rect x="347" y="349" width="1" height="14" fill="#26a69a"/>
<rect x="346" y="352" width="3" height="8" fill="#26a69a"/>
<rect x="350" y="334" width="1" height="21" fill="#26a69a"/>
<rect x="349" y="337" width="3" height="15" fill="#26a69a"/>
<rect x="354" y="312" width="1" height="29" fill="#26a69a"/>
<rect x="353" y="315" width="3" height="22" fill="#26a69a"/>
<rect x="357" y="304" width="1" height="25" fill="#ef5350"/>
<rect x="356" y="315" width="3" height="4" fill="#ef5350"/>
<rect x="361" y="317" width="1" height="18" fill="#ef5350"/>
<rect x="360" y="319" width="3" height="8" fill="#ef5350"/>
<rect x="364" y="316" width="1" height="13" fill="#26a69a"/>
<rect x="363" y="325" width="3" height="1" fill="#26a69a"/>
<rect x="368" y="303" width="1" height="25" fill="#26a69a"/>
<rect x="367" y="322" width="3" height="4" fill="#26a69a"/>
<rect x="371" y="316" width="1" height="21" fill="#26a69a"/>
<rect x="370" y="316" width="3" height="6" fill="#26a69a"/>
<rect x="375" y="282" width="1" height="41" fill="#26a69a"/>
<rect x="374" y="288" width="3" height="29" fill="#26a69a"/>
<rect x="378" y="275" width="1" height="28" fill="#26a69a"/>
<rect x="377" y="282" width="3" height="7" fill="#26a69a"/>
<rect x="382" y="256" width="1" height="34" fill="#26a69a"/>
<rect x="381" y="278" width="3" height="5" fill="#26a69a"/>
<rect x="385" y="274" width="1" height="12" fill="#ef5350"/>
<rect x="384" y="278" width="3" height="1" fill="#ef5350"/>
<rect x="389" y="259" width="1" height="22" fill="#26a69a"/>
<rect x="388" y="266" width="3" height="14" fill="#26a69a"/>
<rect x="392" y="214" width="1" height="61" fill="#26a69a"/>
<rect x="391" y="224" width="3" height="43" fill="#26a69a"/>
<rect x="395" y="194" width="1" height="36" fill="#26a69a"/>
<rect x="394" y="196" width="3" height="28" fill="#26a69a"/>
<rect x="399" y="195" width="1" height="64" fill="#ef5350"/>
<rect x="398" y="196" width="3" height="48" fill="#ef5350"/>
<rect x="402" y="237" width="1" height="35" fill="#ef5350"/>
<rect x="401" y="243" width="3" height="20" fill="#ef5350"/>
<rect x="406" y="250" width="1" height="32" fill="#26a69a"/>
<rect x="405" y="250" width="3" height="13" fill="#26a69a"/>
<rect x="409" y="242" width="1" height="16" fill="#ef5350"/>
<rect x="408" y="250" width="3" height="7" fill="#ef5350"/>
<rect x="413" y="239" width="1" height="18" fill="#26a69a"/>
<rect x="412" y="246" width="3" height="10" fill="#26a69a"/>
<rect x="416" y="226" width="1" height="38" fill="#ef5350"/>
<rect x="415" y="246" width="3" height="16" fill="#ef5350"/>
<rect x="420" y="251" width="1" height="23" fill="#ef5350"/>
<rect x="419" y="261" width="3" height="6" fill="#ef5350"/>
<rect x="423" y="263" width="1" height="35" fill="#ef5350"/>
<rect x="422" y="266" width="3" height="11" fill="#ef5350"/>
<rect x="427" y="262" width="1" height="33" fill="#ef5350"/>
<rect x="426" y="276" width="3" height="18" fill="#ef5350"/>
<rect x="430" y="292" width="1" height="37" fill="#ef5350"/>
<rect x="429" y="293" width="3" height="28" fill="#ef5350"/>
<rect x="434" y="313" width="1" height="27" fill="#ef5350"/>
<rect x="433" y="320" width="3" height="13" fill="#ef5350"/>
<rect x="437" y="320" width="1" height="19" fill="#26a69a"/>
<rect x="436" y="323" width="3" height="10" fill="#26a69a"/>
<rect x="441" y="300" width="1" height="23" fill="#26a69a"/>
<rect x="440" y="300" width="3" height="22" fill="#26a69a"/>
<rect x="444" y="294" width="1" height="28" fill="#ef5350"/>
<rect x="443" y="300" width="3" height="18" fill="#ef5350"/>
<rect x="448" y="300" width="1" height="25" fill="#26a69a"/>
<rect x="447" y="305" width="3" height="13" fill="#26a69a"/>
<rect x="451" y="282" width="1" height="27" fill="#26a69a"/>
<rect x="450" y="283" width="3" height="23" fill="#26a69a"/>
<rect x="455" y="271" width="1" height="17" fill="#26a69a"/>
<rect x="454" y="279" width="3" height="5" fill="#26a69a"/>
<rect x="458" y="260" width="1" height="21" fill="#26a69a"/>
<rect x="457" y="270" width="3" height="9" fill="#26a69a"/>
<rect x="462" y="252" width="1" height="24" fill="#26a69a"/>
<rect x="461" y="262" width="3" height="8" fill="#26a69a"/>
<rect x="465" y="250" width="1" height="38" fill="#ef5350"/>
<rect x="464" y="262" width="3" height="25" fill="#ef5350"/>
<rect x="468" y="230" width="1" height="58" fill="#26a69a"/>
<rect x="467" y="236" width="3" height="49" fill="#26a69a"/>
<rect x="472" y="198" width="1" height="39" fill="#26a69a"/>
<rect x="471" y="208" width="3" height="28" fill="#26a69a"/>
<rect x="475" y="183" width="1" height="68" fill="#ef5350"/>
<rect x="474" y="208" width="3" height="27" fill="#ef5350"/>
<rect x="479" y="218" width="1" height="41" fill="#ef5350"/>
<rect x="478" y="234" width="3" height="20" fill="#ef5350"/>
<rect x="482" y="241" width="1" height="14" fill="#26a69a"/>
<rect x="481" y="242" width="3" height="12" fill="#26a69a"/>
<rect x="486" y="224" width="1" height="24" fill="#26a69a"/>
<rect x="485" y="238" width="3" height="5" fill="#26a69a"/>
<rect x="489" y="237" width="1" height="33" fill="#ef5350"/>
<rect x="488" y="238" width="3" height="24" fill="#ef5350"/>
<rect x="493" y="253" width="1" height="29" fill="#ef5350"/>
<rect x="492" y="261" width="3" height="21" fill="#ef5350"/>
<rect x="496" y="247" width="1" height="35" fill="#26a69a"/>
<rect x="495" y="247" width="3" height="35" fill="#26a69a"/>
<rect x="500" y="241" width="1" height="30" fill="#ef5350"/>
<rect x="499" y="247" width="3" height="23" fill="#ef5350"/>
<rect x="503" y="205" width="1" height="72" fill="#26a69a"/>
<rect x="502" y="210" width="3" height="60" fill="#26a69a"/>
<rect x="507" y="187" width="1" height="39" fill="#26a69a"/>
<rect x="506" y="200" width="3" height="10" fill="#26a69a"/>
<rect x="510" y="177" width="1" height="32" fill="#26a69a"/>
<rect x="509" y="195" width="3" height="6" fill="#26a69a"/>
<rect x="514" y="173" width="1" height="81" fill="#ef5350"/>
<rect x="513" y="195" width="3" height="54" fill="#ef5350"/>
<rect x="517" y="218" width="1" height="36" fill="#26a69a"/>
<rect x="516" y="224" width="3" height="25" fill="#26a69a"/>
<rect x="521" y="177" width="1" height="53" fill="#26a69a"/>
<rect x="520" y="204" width="3" height="21" fill="#26a69a"/>
<rect x="524" y="163" width="1" height="44" fill="#26a69a"/>
<rect x="523" y="170" width="3" height="34" fill="#26a69a"/>
<rect x="528" y="160" width="1" height="52" fill="#ef5350"/>
<rect x="527" y="170" width="3" height="27" fill="#ef5350"/>
<rect x="531" y="192" width="1" height="26" fill="#ef5350"/>
<rect x="530" y="197" width="3" height="7" fill="#ef5350"/>
<rect x="534" y="193" width="1" height="18" fill="#ef5350"/>
<rect x="533" y="204" width="3" height="6" fill="#ef5350"/>
<rect x="538" y="200" width="1" height="28" fill="#ef5350"/>
<rect x="537" y="210" width="3" height="11" fill="#ef5350"/>
<rect x="541" y="184" width="1" height="37" fill="#26a69a"/>
<rect x="540" y="184" width="3" height="37" fill="#26a69a"/>
<rect x="545" y="174" width="1" height="17" fill="#26a69a"/>
<rect x="544" y="181" width="3" height="4" fill="#26a69a"/>
<rect x="548" y="177" width="1" height="30" fill="#ef5350"/>
<rect x="547" y="181" width="3" height="25" fill="#ef5350"/>
<rect x="552" y="183" width="1" height="26" fill="#26a69a"/>
<rect x="551" y="202" width="3" height="3" fill="#26a69a"/>
<rect x="555" y="198" width="1" height="16" fill="#ef5350"/>
<rect x="554" y="202" width="3" height="11" fill="#ef5350"/>
<rect x="559" y="189" width="1" height="24" fill="#26a69a"/>
<rect x="558" y="194" width="3" height="19" fill="#26a69a"/>
<rect x="562" y="162" width="1" height="34" fill="#26a69a"/>
<rect x="561" y="171" width="3" height="24" fill="#26a69a"/>
<rect x="566" y="155" width="1" height="26" fill="#26a69a"/>
<rect x="565" y="162" width="3" height="10" fill="#26a69a"/>
<rect x="569" y="137" width="1" height="31" fill="#26a69a"/>
<rect x="568" y="142" width="3" height="21" fill="#26a69a"/>
<rect x="573" y="128" width="1" height="21" fill="#26a69a"/>
<rect x="572" y="129" width="3" height="14" fill="#26a69a"/>
<rect x="576" y="84" width="1" height="47" fill="#26a69a"/>
<rect x="575" y="90" width="3" height="40" fill="#26a69a"/>
<rect x="580" y="84" width="1" height="25" fill="#26a69a"/>
<rect x="579" y="89" width="3" height="1" fill="#26a69a"/>
<rect x="583" y="68" width="1" height="30" fill="#ef5350"/>
<rect x="582" y="89" width="3" height="9" fill="#ef5350"/>
<rect x="587" y="85" width="1" height="40" fill="#ef5350"/>
<rect x="586" y="97" width="3" height="17" fill="#ef5350"/>
<rect x="590" y="93" width="1" height="28" fill="#26a69a"/>
<rect x="589" y="105" width="3" height="9" fill="#26a69a"/>
<rect x="594" y="77" width="1" height="42" fill="#26a69a"/>
<rect x="593" y="82" width="3" height="24" fill="#26a69a"/>
<rect x="597" y="57" width="1" height="31" fill="#26a69a"/>
<rect x="596" y="74" width="3" height="9" fill="#26a69a"/>
<rect x="601" y="71" width="1" height="39" fill="#ef5350"/>
<rect x="600" y="74" width="3" height="27" fill="#ef5350"/>
<rect x="604" y="93" width="1" height="12" fill="#26a69a"/>
<rect x="603" y="98" width="3" height="3" fill="#26a69a"/>
<rect x="607" y="92" width="1" height="18" fill="#ef5350"/>
<rect x="606" y="98" width="3" height="9" fill="#ef5350"/>
<rect x="611" y="105" width="1" height="64" fill="#ef5350"/>
<rect x="610" y="107" width="3" height="47" fill="#ef5350"/>
<rect x="614" y="149" width="1" height="27" fill="#ef5350"/>
<rect x="613" y="153" width="3" height="22" fill="#ef5350"/>
<rect x="618" y="164" width="1" height="33" fill="#ef5350"/>
<rect x="617" y="174" width="3" height="5" fill="#ef5350"/>
<rect x="621" y="176" width="1" height="61" fill="#ef5350"/>
<rect x="620" y="178" width="3" height="56" fill="#ef5350"/>
<rect x="625" y="196" width="1" height="43" fill="#26a69a"/>
<rect x="624" y="197" width="3" height="37" fill="#26a69a"/>
<rect x="628" y="196" width="1" height="16" fill="#ef5350"/>
<rect x="627" y="197" width="3" height="6" fill="#ef5350"/>
<rect x="632" y="180" width="1" height="38" fill="#26a69a"/>
<rect x="631" y="180" width="3" height="23" fill="#26a69a"/>
<rect x="635" y="169" width="1" height="29" fill="#26a69a"/>
<rect x="634" y="175" width="3" height="5" fill="#26a69a"/>
<rect x="639" y="172" width="1" height="28" fill="#ef5350"/>
<rect x="638" y="175" width="3" height="13" fill="#ef5350"/>
<rect x="642" y="146" width="1" height="48" fill="#26a69a"/>
<rect x="641" y="148" width="3" height="40" fill="#26a69a"/>
<rect x="646" y="111" width="1" height="44" fill="#26a69a"/>
<rect x="645" y="111" width="3" height="38" fill="#26a69a"/>
<rect x="649" y="105" width="1" height="28" fill="#ef5350"/>
<rect x="648" y="111" width="3" height="7" fill="#ef5350"/>
<rect x="653" y="113" width="1" height="29" fill="#ef5350"/>
<rect x="652" y="117" width="3" height="14" fill="#ef5350"/>
<rect x="656" y="104" width="1" height="30" fill="#26a69a"/>
<rect x="655" y="129" width="3" height="3" fill="#26a69a"/>
<rect x="660" y="103" width="1" height="28" fill="#26a69a"/>
<rect x="659" y="118" width="3" height="12" fill="#26a69a"/>
<rect x="663" y="110" width="1" height="45" fill="#ef5350"/>
<rect x="662" y="118" width="3" height="37" fill="#ef5350"/>
<rect x="667" y="126" width="1" height="36" fill="#26a69a"/>
<rect x="666" y="128" width="3" height="27" fill="#26a69a"/>
<rect x="670" y="126" width="1" height="36" fill="#ef5350"/>
<rect x="669" y="128" width="3" height="24" fill="#ef5350"/>
<rect x="673" y="141" width="1" height="161" fill="#ef5350"/>
<rect x="672" y="151" width="3" height="95" fill="#ef5350"/>
<rect x="677" y="239" width="1" height="53" fill="#ef5350"/>
<rect x="676" y="246" width="3" height="32" fill="#ef5350"/>
<rect x="680" y="215" width="1" height="75" fill="#26a69a"/>
<rect x="679" y="221" width="3" height="57" fill="#26a69a"/>
<rect x="684" y="185" width="1" height="56" fill="#26a69a"/>
<rect x="683" y="186" width="3" height="36" fill="#26a69a"/>
<rect x="687" y="179" width="1" height="58" fill="#ef5350"/>
<rect x="686" y="186" width="3" height="19" fill="#ef5350"/>
<rect x="691" y="186" width="1" height="49" fill="#ef5350"/>
<rect x="690" y="205" width="3" height="26" fill="#ef5350"/>
<rect x="694" y="217" width="1" height="47" fill="#ef5350"/>
<rect x="693" y="230" width="3" height="27" fill="#ef5350"/>
<rect x="698" y="248" width="1" height="39" fill="#ef5350"/>
<rect x="697" y="256" width="3" height="9" fill="#ef5350"/>
<rect x="701" y="246" width="1" height="19" fill="#26a69a"/>
<rect x="700" y="248" width="3" height="17" fill="#26a69a"/>
<rect x="705" y="234" width="1" height="27" fill="#26a69a"/>
<rect x="704" y="247" width="3" height="1" fill="#26a69a"/>
<rect x="708" y="228" width="1" height="31" fill="#26a69a"/>
<rect x="707" y="242" width="3" height="6" fill="#26a69a"/>
<rect x="712" y="219" width="1" height="43" fill="#ef5350"/>
<rect x="711" y="242" width="3" height="13" fill="#ef5350"/>
<rect x="715" y="248" width="1" height="31" fill="#ef5350"/>
<rect x="714" y="254" width="3" height="17" fill="#ef5350"/>
<rect x="719" y="231" width="1" height="40" fill="#26a69a"/>
<rect x="718" y="237" width="3" height="34" fill="#26a69a"/>
<rect x="722" y="221" width="1" height="23" fill="#26a69a"/>
<rect x="721" y="231" width="3" height="6" fill="#26a69a"/>
<rect x="726" y="226" width="1" height="12" fill="#26a69a"/>
<rect x="725" y="230" width="3" height="1" fill="#26a69a"/>
<rect x="729" y="205" width="1" height="30" fill="#26a69a"/>
<rect x="728" y="212" width="3" height="19" fill="#26a69a"/>
<rect x="733" y="197" width="1" height="22" fill="#ef5350"/>
<rect x="732" y="212" width="3" height="5" fill="#ef5350"/>
<rect x="736" y="200" width="1" height="40" fill="#ef5350"/>
<rect x="735" y="216" width="3" height="14" fill="#ef5350"/>
<rect x="740" y="207" width="1" height="36" fill="#ef5350"/>
<rect x="739" y="229" width="3" height="1" fill="#ef5350"/>
<rect x="743" y="217" width="1" height="57" fill="#ef5350"/>
<rect x="742" y="230" width="3" height="27" fill="#ef5350"/>
<rect x="746" y="240" width="1" height="18" fill="#26a69a"/>
<rect x="745" y="249" width="3" height="8" fill="#26a69a"/>
<rect x="750" y="248" width="1" height="11" fill="#ef5350"/>
<rect x="749" y="249" width="3" height="4" fill="#ef5350"/>
<rect x="753" y="246" width="1" height="18" fill="#26a69a"/>
<rect x="752" y="248" width="3" height="5" fill="#26a69a"/>
<rect x="757" y="244" width="1" height="75" fill="#ef5350"/>
<rect x="756" y="248" width="3" height="63" fill="#ef5350"/>
<rect x="760" y="304" width="1" height="65" fill="#ef5350"/>
<rect x="759" y="310" width="3" height="33" fill="#ef5350"/>
<rect x="764" y="316" width="1" height="49" fill="#26a69a"/>
<rect x="763" y="321" width="3" height="22" fill="#26a69a"/>
<rect x="767" y="320" width="1" height="26" fill="#ef5350"/>
<rect x="766" y="321" width="3" height="22" fill="#ef5350"/>
<rect x="771" y="315" width="1" height="42" fill="#26a69a"/>
<rect x="770" y="324" width="3" height="19" fill="#26a69a"/>
<rect x="774" y="314" width="1" height="26" fill="#ef5350"/>
<rect x="773" y="324" width="3" height="10" fill="#ef5350"/>
<rect x="778" y="309" width="1" height="33" fill="#26a69a"/>
<rect x="777" y="315" width="3" height="19" fill="#26a69a"/>
<rect x="781" y="298" width="1" height="19" fill="#26a69a"/>
<rect x="780" y="307" width="3" height="9" fill="#26a69a"/>
<rect x="785" y="293" width="1" height="53" fill="#ef5350"/>
<rect x="784" y="307" width="3" height="38" fill="#ef5350"/>
<rect x="788" y="325" width="1" height="27" fill="#ef5350"/>
<rect x="787" y="344" width="3" height="4" fill="#ef5350"/>
<rect x="792" y="337" width="1" height="45" fill="#ef5350"/>
<rect x="791" y="347" width="3" height="26" fill="#ef5350"/>
<rect x="795" y="370" width="1" height="28" fill="#ef5350"/>
<rect x="794" y="372" width="3" height="18" fill="#ef5350"/>
<rect x="799" y="372" width="1" height="18" fill="#26a69a"/>
<rect x="798" y="387" width="3" height="2" fill="#26a69a"/>
<rect x="802" y="377" width="1" height="25" fill="#ef5350"/>
<rect x="801" y="387" width="3" height="8" fill="#ef5350"/>
<rect x="806" y="376" width="1" height="42" fill="#ef5350"/>
<rect x="805" y="394" width="3" height="19" fill="#ef5350"/>
<rect x="809" y="380" width="1" height="38" fill="#26a69a"/>
<rect x="808" y="384" width="3" height="29" fill="#26a69a"/>
<rect x="812" y="378" width="1" height="34" fill="#ef5350"/>
<rect x="811" y="384" width="3" height="11" fill="#ef5350"/>
<rect x="816" y="372" width="1" height="35" fill="#ef5350"/>
<rect x="815" y="394" width="3" height="11" fill="#ef5350"/>
<rect x="819" y="400" width="1" height="39" fill="#ef5350"/>
<rect x="818" y="404" width="3" height="16" fill="#ef5350"/>
<rect x="823" y="416" width="1" height="13" fill="#ef5350"/>
<rect x="822" y="419" width="3" height="4" fill="#ef5350"/>
<rect x="826" y="405" width="1" height="18" fill="#26a69a"/>
<rect x="825" y="414" width="3" height="9" fill="#26a69a"/>
<rect x="830" y="387" width="1" height="32" fill="#26a69a"/>
<rect x="829" y="390" width="3" height="24" fill="#26a69a"/>
<rect x="833" y="385" width="1" height="20" fill="#26a69a"/>
<rect x="832" y="389" width="3" height="2" fill="#26a69a"/>
<rect x="837" y="372" width="1" height="27" fill="#26a69a"/>
<rect x="836" y="377" width="3" height="13" fill="#26a69a"/>
<rect x="840" y="373" width="1" height="12" fill="#ef5350"/>
<rect x="839" y="377" width="3" height="7" fill="#ef5350"/>
<rect x="844" y="375" width="1" height="21" fill="#ef5350"/>
<rect x="843" y="383" width="3" height="12" fill="#ef5350"/>
<rect x="847" y="391" width="1" height="10" fill="#ef5350"/>
<rect x="846" y="394" width="3" height="5" fill="#ef5350"/>
<rect x="851" y="385" width="1" height="20" fill="#ef5350"/>
<rect x="850" y="398" width="3" height="7" fill="#ef5350"/>
<rect x="854" y="404" width="1" height="31" fill="#ef5350"/>
<rect x="853" y="405" width="3" height="20" fill="#ef5350"/>
<rect x="858" y="383" width="1" height="42" fill="#26a69a"/>
<rect x="857" y="390" width="3" height="35" fill="#26a69a"/>
<rect x="861" y="368" width="1" height="24" fill="#26a69a"/>
<rect x="860" y="372" width="3" height="19" fill="#26a69a"/>
<rect x="865" y="366" width="1" height="25" fill="#ef5350"/>
<rect x="864" y="372" width="3" height="18" fill="#ef5350"/>
<rect x="868" y="384" width="1" height="29" fill="#ef5350"/>
<rect x="867" y="389" width="3" height="16" fill="#ef5350"/>
<rect x="872" y="403" width="1" height="7" fill="#ef5350"/>
<rect x="871" y="405" width="3" height="5" fill="#ef5350"/>
<rect x="875" y="396" width="1" height="26" fill="#26a69a"/>
<rect x="874" y="408" width="3" height="1" fill="#26a69a"/>
<rect x="879" y="388" width="1" height="21" fill="#26a69a"/>
<rect x="878" y="405" width="3" height="4" fill="#26a69a"/>
<rect x="882" y="372" width="1" height="38" fill="#26a69a"/>
<rect x="881" y="392" width="3" height="14" fill="#26a69a"/>
<rect x="885" y="378" width="1" height="21" fill="#ef5350"/>
<rect x="884" y="392" width="3" height="6" fill="#ef5350"/>
<rect x="889" y="392" width="1" height="26" fill="#26a69a"/>
<rect x="888" y="396" width="3" height="1" fill="#26a69a"/>
<rect x="892" y="386" width="1" height="23" fill="#ef5350"/>
<rect x="891" y="396" width="3" height="13" fill="#ef5350"/>
<rect x="896" y="402" width="1" height="8" fill="#26a69a"/>
<rect x="895" y="406" width="3" height="3" fill="#26a69a"/>
<rect x="899" y="405" width="1" height="16" fill="#ef5350"/>
<rect x="898" y="406" width="3" height="12" fill="#ef5350"/>
<rect x="903" y="399" width="1" height="33" fill="#ef5350"/>
<rect x="902" y="417" width="3" height="5" fill="#ef5350"/>
<rect x="906" y="414" width="1" height="16" fill="#26a69a"/>
<rect x="905" y="417" width="3" height="5" fill="#26a69a"/>
<rect x="910" y="403" width="1" height="37" fill="#ef5350"/>
<rect x="909" y="417" width="3" height="18" fill="#ef5350"/>
<rect x="913" y="418" width="1" height="35" fill="#ef5350"/>
<rect x="912" y="434" width="3" height="12" fill="#ef5350"/>
<rect x="917" y="421" width="1" height="30" fill="#26a69a"/>
<rect x="916" y="426" width="3" height="20" fill="#26a69a"/>
<rect x="920" y="424" width="1" height="5" fill="#ef5350"/>
<rect x="919" y="426" width="3" height="2" fill="#ef5350"/>
<rect x="924" y="425" width="1" height="9" fill="#26a69a"/>
<rect x="923" y="425" width="3" height="1" fill="#26a69a"/>
<rect x="927" y="418" width="1" height="14" fill="#ef5350"/>
<rect x="926" y="425" width="3" height="2" fill="#ef5350"/>
<rect x="931" y="424" width="1" height="14" fill="#ef5350"/>
<rect x="930" y="427" width="3" height="5" fill="#ef5350"/>
<rect x="934" y="431" width="1" height="10" fill="#ef5350"/>
<rect x="933" y="432" width="3" height="5" fill="#ef5350"/>
<rect x="938" y="432" width="1" height="13" fill="#ef5350"/>
<rect x="937" y="437" width="3" height="8" fill="#ef5350"/>
<rect x="941" y="429" width="1" height="17" fill="#26a69a"/>
<rect x="940" y="437" width="3" height="8" fill="#26a69a"/>
<rect x="945" y="429" width="1" height="9" fill="#26a69a"/>
<rect x="944" y="430" width="3" height="8" fill="#26a69a"/>
<rect x="948" y="428" width="1" height="7" fill="#26a69a"/>
<rect x="947" y="429" width="3" height="1" fill="#26a69a"/>
<rect x="951" y="414" width="1" height="23" fill="#ef5350"/>
<rect x="950" y="429" width="3" height="6" fill="#ef5350"/>
<rect x="955" y="425" width="1" height="11" fill="#26a69a"/>
<rect x="954" y="429" width="3" height="6" fill="#26a69a"/>
<rect x="958" y="410" width="1" height="25" fill="#ef5350"/>
<rect x="957" y="429" width="3" height="1" fill="#ef5350"/>
<rect x="962" y="423" width="1" height="9" fill="#26a69a"/>
<rect x="961" y="424" width="3" height="7" fill="#26a69a"/>
<rect x="965" y="405" width="1" height="21" fill="#26a69a"/>
<rect x="964" y="408" width="3" height="17" fill="#26a69a"/>
<rect x="969" y="403" width="1" height="13" fill="#26a69a"/>
<rect x="968" y="405" width="3" height="4" fill="#26a69a"/>
<rect x="972" y="399" width="1" height="7" fill="#26a69a"/>
<rect x="971" y="404" width="3" height="2" fill="#26a69a"/>
<rect x="976" y="386" width="1" height="19" fill="#26a69a"/>
<rect x="975" y="392" width="3" height="12" fill="#26a69a"/>
<rect x="979" y="376" width="1" height="21" fill="#26a69a"/>
<rect x="978" y="383" width="3" height="9" fill="#26a69a"/>
<rect x="983" y="382" width="1" height="20" fill="#ef5350"/>
<rect x="982" y="383" width="3" height="14" fill="#ef5350"/>
<rect x="986" y="388" width="1" height="19" fill="#26a69a"/>
<rect x="985" y="391" width="3" height="5" fill="#26a69a"/>
<rect x="990" y="383" width="1" height="16" fill="#ef5350"/>
<rect x="989" y="391" width="3" height="8" fill="#ef5350"/>
<rect x="993" y="393" width="1" height="6" fill="#ef5350"/>
<rect x="992" y="398" width="3" height="1" fill="#ef5350"/>
<rect x="997" y="381" width="1" height="18" fill="#26a69a"/>
<rect x="996" y="387" width="3" height="12" fill="#26a69a"/>
<rect x="1000" y="373" width="1" height="17" fill="#ef5350"/>
<rect x="999" y="387" width="3" height="2" fill="#ef5350"/>
<rect x="1004" y="361" width="1" height="31" fill="#26a69a"/>
<rect x="1003" y="370" width="3" height="19" fill="#26a69a"/>
<rect x="1007" y="361" width="1" height="14" fill="#26a69a"/>
<rect x="1006" y="367" width="3" height="4" fill="#26a69a"/>
<rect x="1011" y="366" width="1" height="17" fill="#ef5350"/>
<rect x="1010" y="367" width="3" height="12" fill="#ef5350"/>
<rect x="1014" y="371" width="1" height="14" fill="#26a69a"/>
<rect x="1013" y="372" width="3" height="8" fill="#26a69a"/>
<rect x="1018" y="371" width="1" height="5" fill="#ef5350"/>
<rect x="1017" y="372" width="3" height="3" fill="#ef5350"/>
<rect x="1021" y="374" width="1" height="19" fill="#ef5350"/>
<rect x="1020" y="375" width="3" height="18" fill="#ef5350"/>
<rect x="1024" y="392" width="1" height="23" fill="#ef5350"/>
<rect x="1023" y="392" width="3" height="15" fill="#ef5350"/>
<rect x="1028" y="402" width="1" height="28" fill="#ef5350"/>
<rect x="1027" y="406" width="3" height="22" fill="#ef5350"/>
<rect x="1031" y="409" width="1" height="20" fill="#26a69a"/>
<rect x="1030" y="416" width="3" height="12" fill="#26a69a"/>
<rect x="1035" y="412" width="1" height="12" fill="#ef5350"/>
<rect x="1034" y="416" width="3" height="4" fill="#ef5350"/>
<rect x="1038" y="414" width="1" height="15" fill="#ef5350"/>
<rect x="1037" y="420" width="3" height="2" fill="#ef5350"/>
<rect x="1042" y="420" width="1" height="5" fill="#ef5350"/>
<rect x="1041" y="422" width="3" height="1" fill="#ef5350"/>
<rect x="1045" y="422" width="1" height="30" fill="#ef5350"/>
<rect x="1044" y="423" width="3" height="24" fill="#ef5350"/>
<rect x="1049" y="428" width="1" height="20" fill="#26a69a"/>
<rect x="1048" y="433" width="3" height="14" fill="#26a69a"/>
<rect x="1052" y="421" width="1" height="14" fill="#26a69a"/>
<rect x="1051" y="423" width="3" height="10" fill="#26a69a"/>
<rect x="1056" y="420" width="1" height="9" fill="#ef5350"/>
<rect x="1055" y="423" width="3" height="6" fill="#ef5350"/>
<rect x="1059" y="428" width="1" height="28" fill="#ef5350"/>
<rect x="1058" y="428" width="3" height="23" fill="#ef5350"/>
<rect x="1063" y="447" width="1" height="20" fill="#ef5350"/>
<rect x="1062" y="450" width="3" height="1" fill="#ef5350"/>
<rect x="1066" y="447" width="1" height="64" fill="#ef5350"/>
<rect x="1065" y="451" width="3" height="36" fill="#ef5350"/>
<rect x="1070" y="482" width="1" height="26" fill="#ef5350"/>
<rect x="1069" y="486" width="3" height="15" fill="#ef5350"/>
<rect x="1073" y="484" width="1" height="30" fill="#26a69a"/>
<rect x="1072" y="489" width="3" height="12" fill="#26a69a"/>
<rect x="1077" y="487" width="1" height="25" fill="#ef5350"/>
<rect x="1076" y="489" width="3" height="19" fill="#ef5350"/>
<rect x="1080" y="503" width="1" height="30" fill="#ef5350"/>
<rect x="1079" y="508" width="3" height="18" fill="#ef5350"/>
<rect x="1084" y="521" width="1" height="46" fill="#ef5350"/>
<rect x="1083" y="525" width="3" height="41" fill="#ef5350"/>
<rect x="1087" y="531" width="1" height="65" fill="#26a69a"/>
<rect x="1086" y="538" width="3" height="28" fill="#26a69a"/>
<rect x="1091" y="533" width="1" height="15" fill="#26a69a"/>
<rect x="1090" y="538" width="3" height="1" fill="#26a69a"/>
<rect x="1094" y="533" width="1" height="9" fill="#ef5350"/>
<rect x="1093" y="538" width="3" height="3" fill="#ef5350"/>
<rect x="1097" y="535" width="1" height="16" fill="#ef5350"/>
<rect x="1096" y="540" width="3" height="1" fill="#ef5350"/>
<rect x="1101" y="538" width="1" height="15" fill="#ef5350"/>
<rect x="1100" y="540" width="3" height="11" fill="#ef5350"/>
<rect x="1104" y="551" width="1" height="14" fill="#ef5350"/>
<rect x="1103" y="551" width="3" height="12" fill="#ef5350"/>
<rect x="1108" y="553" width="1" height="16" fill="#ef5350"/>
<rect x="1107" y="562" width="3" height="3" fill="#ef5350"/>
<rect x="1111" y="543" width="1" height="24" fill="#26a69a"/>
<rect x="1110" y="547" width="3" height="19" fill="#26a69a"/>
<rect x="1115" y="534" width="1" height="14" fill="#26a69a"/>
<rect x="1114" y="536" width="3" height="11" fill="#26a69a"/>
<rect x="1118" y="527" width="1" height="19" fill="#ef5350"/>
<rect x="1117" y="536" width="3" height="7" fill="#ef5350"/>
<rect x="1122" y="540" width="1" height="11" fill="#26a69a"/>
<rect x="1121" y="545" width="3" height="1" fill="#26a69a"/>
<rect x="1125" y="538" width="1" height="9" fill="#ef5350"/>
<rect x="1124" y="542" width="3" height="4" fill="#ef5350"/>
<rect x="1129" y="542" width="1" height="16" fill="#ef5350"/>
<rect x="1128" y="546" width="3" height="10" fill="#ef5350"/>
<rect x="1132" y="552" width="1" height="8" fill="#26a69a"/>
<rect x="1131" y="553" width="3" height="2" fill="#26a69a"/>
<rect x="1136" y="544" width="1" height="11" fill="#26a69a"/>
<rect x="1135" y="547" width="3" height="7" fill="#26a69a"/>
<rect x="1139" y="540" width="1" height="7" fill="#26a69a"/>
<rect x="1138" y="546" width="3" height="1" fill="#26a69a"/>
<rect x="1143" y="544" width="1" height="9" fill="#ef5350"/>
<rect x="1142" y="545" width="3" height="7" fill="#ef5350"/>
<rect x="1146" y="552" width="1" height="16" fill="#ef5350"/>
<rect x="1145" y="552" width="3" height="15" fill="#ef5350"/>
<rect x="1150" y="561" width="1" height="11" fill="#26a69a"/>
<rect x="1149" y="563" width="3" height="4" fill="#26a69a"/>
<rect x="1153" y="525" width="1" height="39" fill="#26a69a"/>
<rect x="1152" y="536" width="3" height="28" fill="#26a69a"/>
<rect x="1157" y="533" width="1" height="13" fill="#ef5350"/>
<rect x="1156" y="536" width="3" height="8" fill="#ef5350"/>
<rect x="1160" y="536" width="1" height="23" fill="#ef5350"/>
<rect x="1159" y="543" width="3" height="12" fill="#ef5350"/>
<rect x="1163" y="543" width="1" height="25" fill="#26a69a"/>
<rect x="1162" y="546" width="3" height="9" fill="#26a69a"/>
<rect x="1167" y="534" width="1" height="21" fill="#ef5350"/>
<rect x="1166" y="547" width="3" height="3" fill="#ef5350"/>
<rect x="1170" y="530" width="1" height="23" fill="#26a69a"/>
<rect x="1169" y="541" width="3" height="9" fill="#26a69a"/>
<rect x="1174" y="538" width="1" height="15" fill="#26a69a"/>
<rect x="1173" y="540" width="3" height="1" fill="#26a69a"/>
<rect x="1177" y="519" width="1" height="28" fill="#26a69a"/>
<rect x="1176" y="528" width="3" height="12" fill="#26a69a"/>
<rect x="1181" y="522" width="1" height="15" fill="#ef5350"/>
<rect x="1180" y="528" width="3" height="6" fill="#ef5350"/>
<rect x="1184" y="533" width="1" height="16" fill="#ef5350"/>
<rect x="1183" y="534" width="3" height="12" fill="#ef5350"/>
<rect x="1188" y="545" width="1" height="8" fill="#ef5350"/>
<rect x="1187" y="546" width="3" height="5" fill="#ef5350"/>
<rect x="1191" y="548" width="1" height="11" fill="#ef5350"/>
<rect x="1190" y="550" width="3" height="5" fill="#ef5350"/>
<rect x="1195" y="544" width="1" height="12" fill="#26a69a"/>
<rect x="1194" y="546" width="3" height="10" fill="#26a69a"/>
</g>
<!-- price line -->
<line x1="10" y1="546.5" x2="1285" y2="546.5" stroke="#26a69a" stroke-width="1" stroke-dasharray="1 2"/>
<!-- horizontal levels -->
<g fill="#0000ff">
<rect x="10" y="37" width="15" height="3"/>
<rect x="43" y="37" width="15" height="3"/>
<rect x="76" y="37" width="15" height="3"/>
<rect x="109" y="37" width="15" height="3"/>
<rect x="142" y="37" width="15" height="3"/>
<rect x="175" y="37" width="15" height="3"/>
<rect x="208" y="37" width="15" height="3"/>
<rect x="241" y="37" width="15" height="3"/>
<rect x="274" y="37" width="15" height="3"/>
<rect x="307" y="37" width="15" height="3"/>
<rect x="340" y="37" width="15" height="3"/>
<rect x="373" y="37" width="15" height="3"/>
<rect x="406" y="37" width="15" height="3"/>
<rect x="439" y="37" width="15" height="3"/>
<rect x="472" y="37" width="15" height="3"/>
<rect x="505" y="37" width="15" height="3"/>
<rect x="538" y="37" width="15" height="3"/>
<rect x="571" y="37" width="15" height="3"/>
<rect x="604" y="37" width="15" height="3"/>
<rect x="637" y="37" width="15" height="3"/>
<rect x="670" y="37" width="15" height="3"/>
<rect x="703" y="37" width="15" height="3"/>
<rect x="736" y="37" width="15" height="3"/>
<rect x="769" y="37" width="15" height="3"/>
<rect x="802" y="37" width="15" height="3"/>
<rect x="835" y="37" width="15" height="3"/>
<rect x="868" y="37" width="15" height="3"/>
<rect x="901" y="37" width="15" height="3"/>
<rect x="934" y="37" width="15" height="3"/>
<rect x="967" y="37" width="15" height="3"/>
<rect x="1000" y="37" width="15" height="3"/>
<rect x="1033" y="37" width="15" height="3"/>
<rect x="1066" y="37" width="15" height="3"/>
<rect x="1099" y="37" width="15" height="3"/>
<rect x="1132" y="37" width="15" height="3"/>
<rect x="1165" y="37" width="15" height="3"/>
<rect x="1198" y="37" width="15" height="3"/>
<rect x="1231" y="37" width="15" height="3"/>
<rect x="1264" y="37" width="15" height="3"/>
<rect x="785" y="365" width="15" height="3"/>
<rect x="818" y="365" width="15" height="3"/>
<rect x="851" y="365" width="15" height="3"/>
<rect x="884" y="365" width="15" height="3"/>
<rect x="917" y="365" width="15" height="3"/>
<rect x="950" y="365" width="15" height="3"/>
<rect x="983" y="365" width="15" height="3"/>
<rect x="1016" y="365" width="15" height="3"/>
<rect x="1049" y="365" width="15" height="3"/>
<rect x="1082" y="365" width="15" height="3"/>
<rect x="1115" y="365" width="15" height="3"/>
<rect x="1148" y="365" width="15" height="3"/>
<rect x="1181" y="365" width="15" height="3"/>
<rect x="1214" y="365" width="15" height="3"/>
<rect x="1247" y="365" width="15" height="3"/>
<rect x="1280" y="365" width="5" height="3"/>
<rect x="757" y="452" width="15" height="3"/>
<rect x="790" y="452" width="15" height="3"/>
<rect x="823" y="452" width="15" height="3"/>
<rect x="856" y="452" width="15" height="3"/>
<rect x="889" y="452" width="15" height="3"/>
<rect x="922" y="452" width="15" height="3"/>
<rect x="955" y="452" width="15" height="3"/>
<rect x="988" y="452" width="15" height="3"/>
<rect x="1021" y="452" width="15" height="3"/>
<rect x="1054" y="452" width="15" height="3"/>
<rect x="1087" y="452" width="15" height="3"/>
<rect x="1120" y="452" width="15" height="3"/>
<rect x="1153" y="452" width="15" height="3"/>
<rect x="1186" y="452" width="15" height="3"/>
<rect x="1219" y="452" width="15" height="3"/>
<rect x="1252" y="452" width="15" height="3"/>
<rect x="10" y="515" width="15" height="3"/>
<rect x="43" y="515" width="15" height="3"/>
<rect x="76" y="515" width="15" height="3"/>
<rect x="109" y="515" width="15" height="3"/>
<rect x="142" y="515" width="15" height="3"/>
<rect x="175" y="515" width="15" height="3"/>
<rect x="208" y="515" width="15" height="3"/>
<rect x="241" y="515" width="15" height="3"/>
<rect x="274" y="515" width="15" height="3"/>
<rect x="307" y="515" width="15" height="3"/>
<rect x="340" y="515" width="15" height="3"/>
<rect x="373" y="515" width="15" height="3"/>
<rect x="406" y="515" width="15" height="3"/>
<rect x="439" y="515" width="15" height="3"/>
<rect x="472" y="515" width="15" height="3"/>
<rect x="505" y="515" width="15" height="3"/>
<rect x="538" y="515" width="15" height="3"/>
<rect x="571" y="515" width="15" height="3"/>
<rect x="604" y="515" width="15" height="3"/>
<rect x="637" y="515" width="15" height="3"/>
<rect x="670" y="515" width="15" height="3"/>
<rect x="703" y="515" width="15" height="3"/>
<rect x="736" y="515" width="15" height="3"/>
<rect x="769" y="515" width="15" height="3"/>
<rect x="802" y="515" width="15" height="3"/>
<rect x="835" y="515" width="15" height="3"/>
<rect x="868" y="515" width="15" height="3"/>
<rect x="901" y="515" width="15" height="3"/>
<rect x="934" y="515" width="15" height="3"/>
<rect x="967" y="515" width="15" height="3"/>
<rect x="1000" y="515" width="15" height="3"/>
<rect x="1033" y="515" width="15" height="3"/>
<rect x="1066" y="515" width="15" height="3"/>
<rect x="1099" y="515" width="15" height="3"/>
<rect x="1132" y="515" width="15" height="3"/>
<rect x="1165" y="515" width="15" height="3"/>
<rect x="1198" y="515" width="15" height="3"/>
<rect x="1231" y="515" width="15" height="3"/>
<rect x="1264" y="515" width="15" height="3"/>
<rect x="1077" y="570" width="15" height="3"/>
<rect x="1110" y="570" width="15" height="3"/>
<rect x="1143" y="570" width="15" height="3"/>
<rect x="1176" y="570" width="15" height="3"/>
<rect x="1209" y="570" width="15" height="3"/>
<rect x="1242" y="570" width="15" height="3"/>
<rect x="1275" y="570" width="10" height="3"/>
</g>
<!-- legend -->
<g font-size="12" stroke-width="0.25">
<text x="18.1" y="46" fill="#131722" stroke="#131722" textLength="159.6" lengthAdjust="spacingAndGlyphs">SOL / TetherUS · 1D · Binance</text>
<text x="186" y="46" fill="#131722" stroke="#131722">O</text><text x="194.1" y="46" fill="#26a69a" stroke="#26a69a" textLength="28.8" lengthAdjust="spacingAndGlyphs">81.60</text>
<text x="231.2" y="46" fill="#131722" stroke="#131722">H</text><text x="239.5" y="46" fill="#26a69a" stroke="#26a69a" textLength="27.8" lengthAdjust="spacingAndGlyphs">85.75</text>
<text x="274.8" y="46" fill="#131722" stroke="#131722">L</text><text x="281.5" y="46" fill="#26a69a" stroke="#26a69a" textLength="29.5" lengthAdjust="spacingAndGlyphs">81.54</text>
<text x="318.9" y="46" fill="#131722" stroke="#131722">C</text><text x="326.5" y="46" fill="#26a69a" stroke="#26a69a" textLength="28.1" lengthAdjust="spacingAndGlyphs">84.89</text>
<text x="362.5" y="46" fill="#26a69a" stroke="#26a69a" textLength="77.5" lengthAdjust="spacingAndGlyphs">+3.30 (+4.04%)</text>
<text x="18.3" y="63" fill="#131722" stroke="#131722" textLength="81.7" lengthAdjust="spacingAndGlyphs">EMA (20, close)</text><text x="107.8" y="63" fill="#2962ff" stroke="#2962ff" textLength="29.1" lengthAdjust="spacingAndGlyphs">85.90</text>
<text x="18.3" y="80" fill="#131722" stroke="#131722" textLength="81" lengthAdjust="spacingAndGlyphs">SMA (50, close)</text><text x="107.5" y="80" fill="#f23645" stroke="#f23645" textLength="29" lengthAdjust="spacingAndGlyphs">95.74</text>
</g>
<!-- price axis -->
<g font-size="12" fill="#131722" stroke="#131722" stroke-width="0.25">
<text x="1294" y="100.9">240.00</text>
<text x="1294" y="158.9">220.00</text>
<text x="1294" y="216.9">200.00</text>
<text x="1294" y="274.9">180.00</text>
<text x="1294" y="332.9">160.00</text>
<text x="1294" y="390.9">140.00</text>
<text x="1294" y="448.9">120.00</text>
<text x="1294" y="622.9">60.00</text>
<text x="1294" y="650.6">80.00</text>
<text x="1294" y="707.6">60.00</text>
<text x="1294" y="821.6">20.00</text>
<text x="111.5" y="846.8" text-anchor="middle" font-size="11.5">May</text>
<text x="218.5" y="846.8" text-anchor="middle" font-size="11.5">Jun</text>
<text x="323.5" y="846.8" text-anchor="middle" font-size="11.5">Jul</text>
<text x="430.5" y="846.8" text-anchor="middle" font-size="11.5">Aug</text>
<text x="538.5" y="846.8" text-anchor="middle" font-size="11.5">Sep</text>
<text x="642.5" y="846.8" text-anchor="middle" font-size="11.5">Oct</text>
<text x="750.5" y="846.8" text-anchor="middle" font-size="11.5">Nov</text>
<text x="854.5" y="846.8" text-anchor="middle" font-size="11.5">Dec</text>
<text x="962.5" y="846.8" text-anchor="middle" font-size="11.5" font-weight="bold">2026</text>
<text x="1070.5" y="846.8" text-anchor="middle" font-size="11.5">Feb</text>
<text x="1167.5" y="846.8" text-anchor="middle" font-size="11.5">Mar</text>
<text x="1275.5" y="846.8" text-anchor="middle" font-size="11.5">Apr</text>
</g>
<g shape-rendering="auto" font-size="12">
<rect x="1289.5" y="31.5" width="57" height="25" rx="4" fill="#fff" stroke="#e0e3eb"/>
<text x="1298.6" y="49" fill="#131722" textLength="26.7" lengthAdjust="spacingAndGlyphs">USDT</text>
<text x="1294" y="448.9" fill="#131722">120.00</text>
<path d="M1286 358 H1333 Q1335 358 1335 360 V372.5 Q1335 374.5 1333 374.5 H1286 Z" fill="#0000ff"/>
<text x="1294" y="370.6" fill="#fff">147.00</text>
<path d="M1286 445 H1333 Q1335 445 1335 447 V459.5 Q1335 461.5 1333 461.5 H1286 Z" fill="#0000ff"/>
<text x="1294" y="457.6" fill="#fff">117.00</text>
<path d="M1237 487 H1285 V504 H1237 Q1235 504 1235 502 V489 Q1235 487 1237 487 Z" fill="#f23645"/>
<text x="1239.5" y="499.8" fill="#fff" textLength="41.5" lengthAdjust="spacingAndGlyphs">SMA:MA</text>
<path d="M1286 487 H1327 Q1329 487 1329 489 V502 Q1329 504 1327 504 H1286 Z" fill="#f23645"/>
<text x="1294" y="499.8" fill="#fff">95.74</text>
<path d="M1286 504 H1327 Q1329 504 1329 506 V519 Q1329 521 1327 521 H1286 Z" fill="#0000ff"/>
<text x="1294" y="516.8" fill="#fff">95.00</text>
<path d="M1256 521 H1285 V538 H1256 Q1254 538 1254 536 V523 Q1254 521 1256 521 Z" fill="#2962ff"/>
<text x="1258.5" y="533.8" fill="#fff" textLength="22.5" lengthAdjust="spacingAndGlyphs">EMA</text>
<path d="M1286 521 H1327 Q1329 521 1329 523 V536 Q1329 538 1327 538 H1286 Z" fill="#2962ff"/>
<text x="1294" y="533.8" fill="#fff">85.90</text>
<path d="M1231 538 H1285 V555 H1231 Q1229 555 1229 553 V540 Q1229 538 1231 538 Z" fill="#26a69a"/>
<text x="1233.5" y="550.8" fill="#fff" textLength="47.5" lengthAdjust="spacingAndGlyphs">SOLUSDT</text>
<path d="M1286 538 H1344 Q1346 538 1346 540 V581 Q1346 583 1344 583 H1286 Z" fill="#26a69a"/>
<text x="1294" y="551" fill="#fff">84.89</text>
<text x="1294" y="564.7" fill="#fff" textLength="42" lengthAdjust="spacingAndGlyphs">−32.99%</text>
<text x="1294" y="579" fill="#fff" fill-opacity="0.8" textLength="45" lengthAdjust="spacingAndGlyphs">09:44:36</text>
<path d="M1286 583 H1327 Q1329 583 1329 585 V598 Q1329 600 1327 600 H1286 Z" fill="#0000ff"/>
<text x="1294" y="595.8" fill="#fff">76.00</text>
<path d="M1262 734 H1285 V750.5 H1262 Q1260 750.5 1260 748.5 V736 Q1260 734 1262 734 Z" fill="#7e57c2"/>
<text x="1264.5" y="746.5" fill="#fff" textLength="16.5" lengthAdjust="spacingAndGlyphs">RSI</text>
<path d="M1286 734 H1327 Q1329 734 1329 736 V748.5 Q1329 750.5 1327 750.5 H1286 Z" fill="#7e57c2"/>
<text x="1294" y="746.5" fill="#fff">46.18</text>
<path d="M1208 751 H1285 V767.5 H1208 Q1206 767.5 1206 765.5 V753 Q1206 751 1208 751 Z" fill="#fdd835"/>
<text x="1210.5" y="763.5" fill="#131722" textLength="70.5" lengthAdjust="spacingAndGlyphs">RSI-based MA</text>
<path d="M1286 751 H1327 Q1329 751 1329 753 V765.5 Q1329 767.5 1327 767.5 H1286 Z" fill="#fdd835"/>
<text x="1294" y="763.5" fill="#131722">44.45</text>
<text x="18.5" y="646.4" fill="#131722" textLength="74.6" lengthAdjust="spacingAndGlyphs">RSI (14, close)</text>
<text x="102.2" y="646.4" fill="#7e57c2" textLength="28.7" lengthAdjust="spacingAndGlyphs">46.18</text>
<text x="138" y="646.4" fill="#f9c623" textLength="29.6" lengthAdjust="spacingAndGlyphs">44.45</text>
</g>
<!-- lightning icon -->
<g shape-rendering="geometricPrecision">
<path d="M1198.6 605.3 A 9.6 9.6 0 1 0 1204.6 611.5" fill="none" stroke="#9c27b0" stroke-width="1.7"/>
<path d="M1198.4 608.9 L1190.9 615.0 L1195.1 615.0 L1191.9 620.2 L1199.9 613.6 L1195.7 613.6 Z" fill="#9c27b0" stroke="#9c27b0" stroke-width="0.5" stroke-linejoin="round"/>
<circle cx="1202.3" cy="607.4" r="2.6" fill="#f23645"/>
</g>
<!-- logo -->
<g fill="#131722" shape-rendering="auto">
<path d="M12 879 H24 V894 H18 V884.5 H12 Z"/>
<circle cx="29" cy="881.8" r="2.6"/>
<path d="M33 879 H42.5 L36 894 H29.5 Z"/>
<text x="49" y="894" font-size="20" font-weight="bold" textLength="121" lengthAdjust="spacingAndGlyphs">TradingView</text>
</g>
</svg>
</body></html>
